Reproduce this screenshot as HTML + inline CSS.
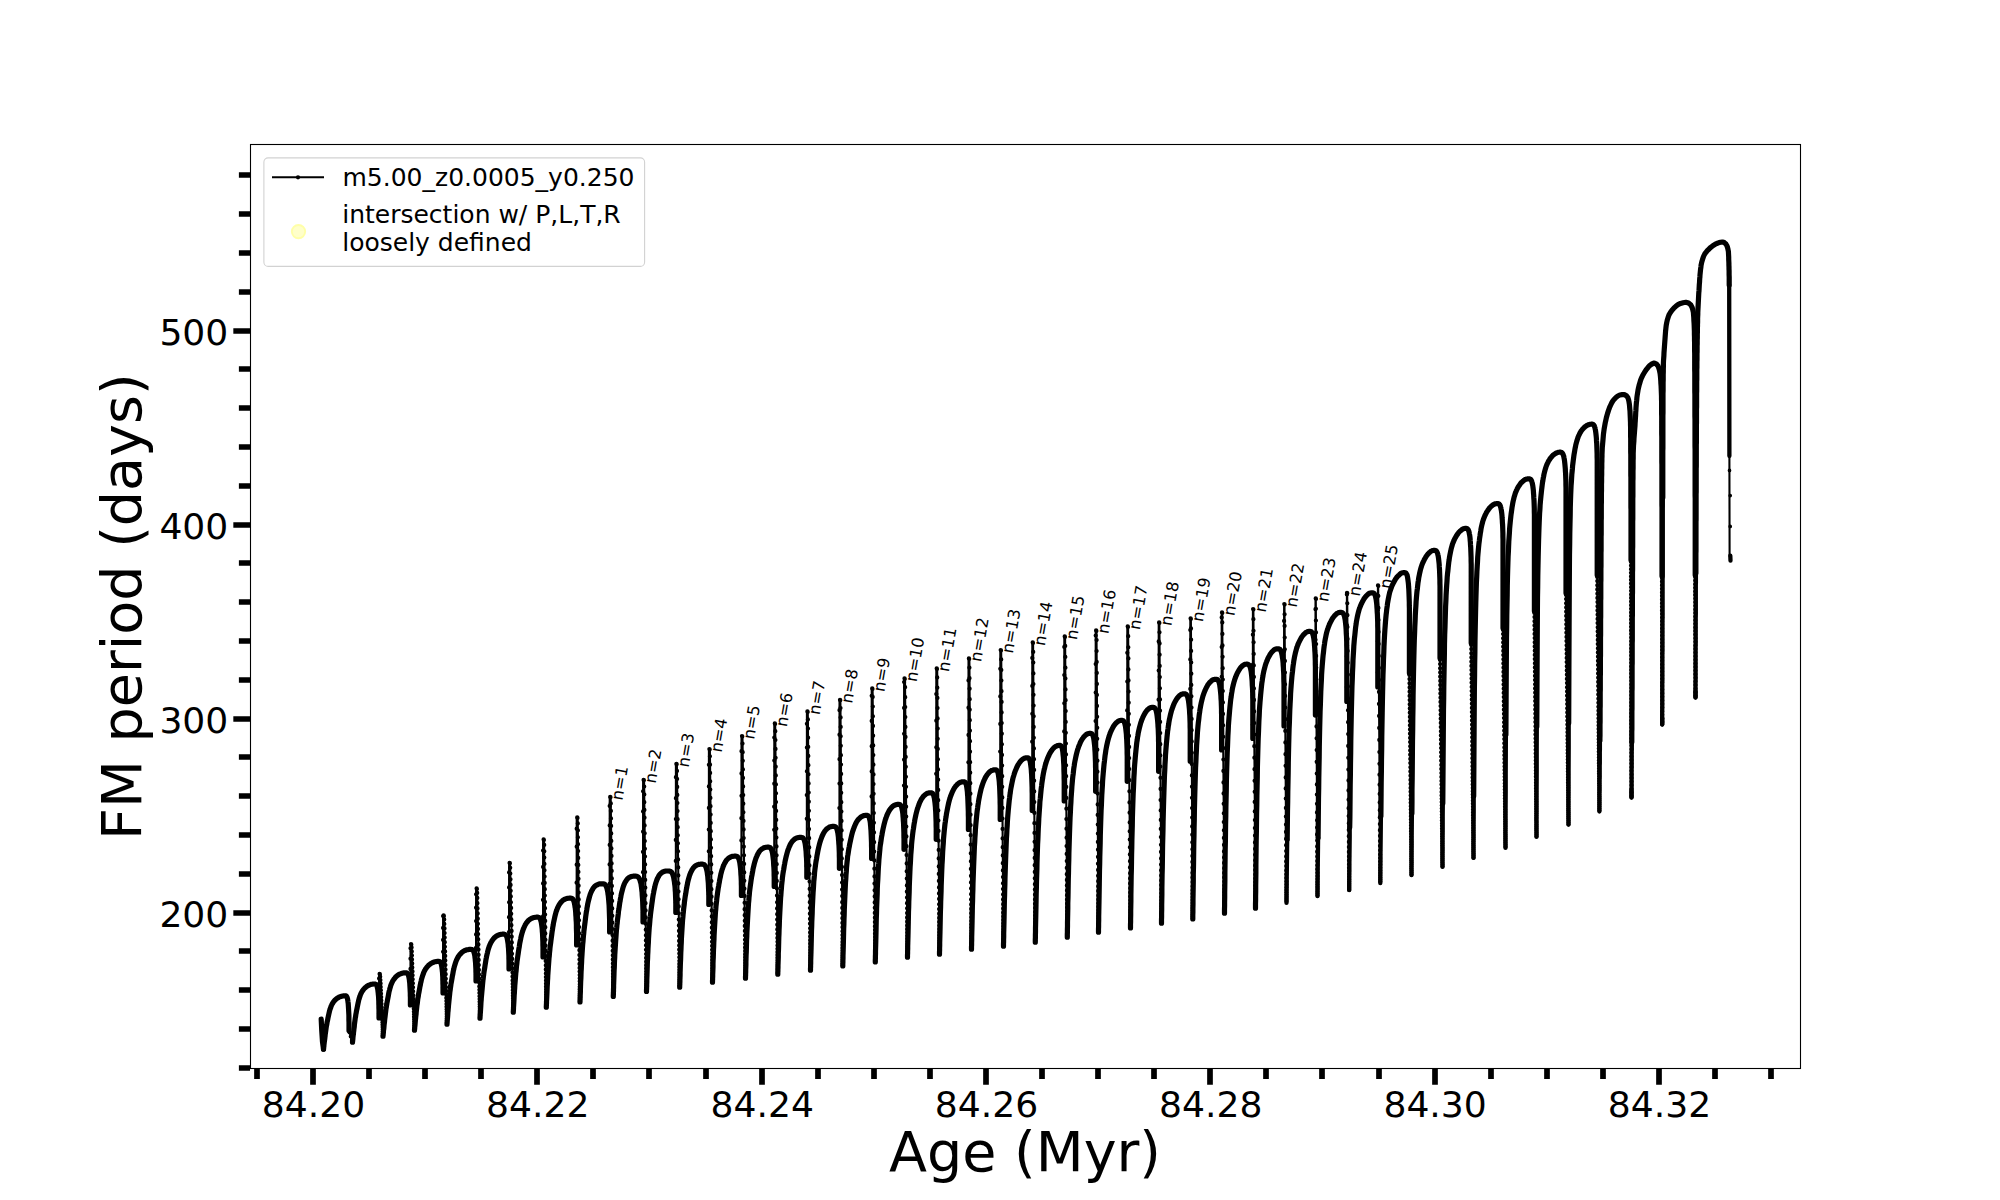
<!DOCTYPE html>
<html lang="en"><head><meta charset="utf-8"><title>FM period vs Age</title>
<style>html,body{margin:0;padding:0;background:#fff}svg{display:block}</style></head>
<body>
<svg width="2000" height="1200" viewBox="0 0 2000 1200" font-family="'DejaVu Sans', 'Liberation Sans', sans-serif" fill="#000">
<rect width="2000" height="1200" fill="#fff"/>
<g fill="none" stroke="#000" stroke-linejoin="round" stroke-linecap="round">
<g stroke-width="2.08">
<polyline points="349.0,1030.4 352.5,1042.2"/>
<polyline points="379.0,1017.9 379.1,974.6 379.6,973.6 380.1,974.6 383.0,1036.2"/>
<polyline points="410.4,1004.9 410.5,944.9 411.0,943.9 411.5,944.9 414.5,1030.2"/>
<polyline points="443.0,992.9 443.1,916.2 443.6,915.2 444.1,916.2 447.0,1024.2"/>
<polyline points="476.0,980.9 476.1,889.2 476.6,888.2 477.1,889.2 480.0,1018.2"/>
<polyline points="509.0,968.9 509.1,863.6 509.6,862.6 510.1,863.6 513.3,1012.2"/>
<polyline points="543.0,956.9 543.1,840.2 543.6,839.2 544.1,840.2 546.3,1007.2"/>
<polyline points="576.6,944.9 576.7,818.2 577.2,817.2 577.7,818.2 580.0,1001.9"/>
<polyline points="609.6,931.9 609.7,797.6 610.2,796.6 610.7,797.6 613.3,996.4"/>
<polyline points="643.0,921.9 643.1,780.6 643.6,779.6 644.1,780.6 646.5,991.4"/>
<polyline points="675.8,912.4 675.9,764.6 676.4,763.6 676.9,764.6 679.7,987.2"/>
<polyline points="708.8,904.5 708.9,749.9 709.4,748.9 709.9,749.9 712.5,982.2"/>
<polyline points="741.4,895.5 741.5,736.9 742.0,735.9 742.5,736.9 745.5,978.2"/>
<polyline points="774.2,886.5 774.3,724.2 774.8,723.2 775.2,724.2 777.8,974.2"/>
<polyline points="806.8,877.3 806.9,712.2 807.4,711.2 807.8,712.2 810.5,970.2"/>
<polyline points="839.4,868.3 839.5,700.6 840.0,699.6 840.4,700.6 842.8,965.9"/>
<polyline points="871.6,858.5 871.7,689.2 872.2,688.2 872.6,689.2 875.3,961.9"/>
<polyline points="904.0,849.3 904.1,679.2 904.5,678.2 905.0,679.2 907.5,957.2"/>
<polyline points="936.2,839.3 936.3,669.2 936.7,668.2 937.2,669.2 939.5,954.2"/>
<polyline points="968.4,829.5 968.5,659.2 968.9,658.2 969.4,659.2 971.5,949.2"/>
<polyline points="1000.2,819.5 1000.3,650.9 1000.7,649.9 1001.2,650.9 1003.5,946.2"/>
<polyline points="1032.2,810.4 1032.3,643.2 1032.7,642.2 1033.1,643.2 1035.3,942.2"/>
<polyline points="1064.2,800.9 1064.3,637.2 1064.7,636.2 1065.1,637.2 1067.3,937.2"/>
<polyline points="1095.6,791.3 1095.7,631.2 1096.1,630.2 1096.5,631.2 1098.5,932.2"/>
<polyline points="1127.2,781.3 1127.3,627.2 1127.7,626.2 1128.1,627.2 1130.5,927.9"/>
<polyline points="1158.6,771.3 1158.7,623.2 1159.1,622.2 1159.4,623.2 1161.5,923.2"/>
<polyline points="1190.2,761.3 1190.3,619.2 1190.6,618.2 1190.9,619.2 1192.8,918.9"/>
<polyline points="1221.6,749.9 1221.7,613.2 1222.0,612.2 1222.2,613.2 1224.5,913.2"/>
<polyline points="1252.8,738.5 1252.9,609.9 1253.1,608.9 1253.4,609.9 1255.5,908.2"/>
<polyline points="1284.0,725.9 1284.1,604.9 1284.3,603.9 1284.5,604.9 1286.5,902.9"/>
<polyline points="1315.4,715.1 1315.5,599.2 1315.7,598.2 1315.8,599.2 1317.5,896.2"/>
<polyline points="1346.8,701.4 1346.9,593.6 1347.0,592.6 1347.2,593.6 1349.2,890.2"/>
<polyline points="1377.8,686.9 1377.9,586.2 1378.0,585.2 1378.2,586.2 1380.3,883.2"/>
<polyline points="1409.4,672.9 1411.5,875.2"/>
<polyline points="1440.0,657.9 1442.5,866.9"/>
<polyline points="1471.2,642.9 1473.5,857.9"/>
<polyline points="1503.0,627.9 1505.5,847.9"/>
<polyline points="1534.4,610.9 1536.5,836.9"/>
<polyline points="1566.0,592.9 1568.5,824.6"/>
<polyline points="1597.2,574.9 1599.4,811.6"/>
<polyline points="1631.0,560.0 1631.5,797.6"/>
<polyline points="1662.0,576.0 1662.2,724.6"/>
<polyline points="1695.2,575.0 1695.5,697.6"/>
<polyline points="1729.4,456.0 1729.6,556.0"/>
</g>
<g stroke-width="5.20">
<polyline points="321.2,1019.2 321.7,1030.0 322.5,1042.0 323.5,1049.2"/>
<polyline points="323.5,1049.2 323.5,1049.2 323.5,1049.0 323.5,1048.9 323.6,1048.6 323.6,1048.2 323.7,1047.8 323.7,1047.3 323.8,1046.7 323.9,1046.1 323.9,1045.4 324.0,1044.6 324.1,1043.8 324.2,1042.9 324.3,1041.9 324.5,1040.8 324.6,1039.7 324.8,1038.5 324.9,1037.3 325.1,1035.9 325.2,1034.6 325.4,1033.2 325.6,1031.8 325.8,1030.4 326.0,1029.0 326.2,1027.5 326.4,1026.2 326.7,1024.8 326.9,1023.5 327.1,1022.2 327.4,1020.9 327.7,1019.7 327.9,1018.4 328.2,1017.0 328.5,1015.6 328.8,1014.2 329.1,1012.9 329.4,1011.6 329.7,1010.3 330.1,1009.2 330.4,1008.2 330.8,1007.2 331.1,1006.2 331.5,1005.4 331.9,1004.5 332.3,1003.8 332.7,1003.2 333.1,1002.5 333.5,1001.9 333.9,1001.4 334.3,1000.9 334.8,1000.4 335.2,999.9 335.7,999.5 336.1,999.1 336.6,998.7 337.1,998.3 337.6,998.0 338.1,997.7 338.6,997.4 339.1,997.1 339.6,996.9 340.1,996.7 340.7,996.5 341.2,996.3 341.8,996.2 342.3,996.1 342.9,996.0 343.5,995.9 344.1,995.8 344.7,995.8 344.9,995.8 345.1,995.8 345.4,995.8 345.6,995.8 345.8,995.9 346.0,995.9 346.2,996.1 346.4,996.2 346.7,996.5 346.8,996.8 347.0,997.2 347.2,997.7 347.4,998.3 347.6,999.1 347.7,1000.0 347.9,1001.0 348.0,1002.1 348.2,1003.4 348.3,1004.8 348.4,1006.3 348.5,1008.0 348.6,1009.8 348.7,1011.7 348.8,1013.7 348.9,1015.7 348.9,1017.9 348.9,1020.1 349.0,1022.3 349.0,1024.6 349.0,1026.9 349.0,1030.4"/>
<polyline points="352.5,1042.2 352.5,1042.2 352.5,1042.0 352.5,1041.8 352.6,1041.5 352.6,1041.1 352.7,1040.7 352.7,1040.1 352.8,1039.5 352.9,1038.8 352.9,1038.0 353.0,1037.2 353.1,1036.3 353.2,1035.3 353.4,1034.2 353.5,1033.1 353.6,1031.9 353.8,1030.6 353.9,1029.2 354.1,1027.8 354.3,1026.3 354.4,1024.7 354.6,1023.2 354.8,1021.7 355.0,1020.1 355.2,1018.6 355.5,1017.1 355.7,1015.6 355.9,1014.2 356.2,1012.8 356.4,1011.4 356.7,1010.0 357.0,1008.6 357.3,1007.1 357.6,1005.6 357.9,1004.1 358.2,1002.6 358.5,1001.2 358.8,999.8 359.2,998.6 359.5,997.5 359.9,996.4 360.2,995.4 360.6,994.4 361.0,993.5 361.4,992.7 361.8,992.0 362.2,991.3 362.6,990.7 363.0,990.1 363.5,989.5 363.9,989.0 364.4,988.5 364.8,988.0 365.3,987.6 365.8,987.2 366.3,986.8 366.8,986.4 367.3,986.0 367.8,985.7 368.3,985.5 368.8,985.2 369.4,985.0 369.9,984.8 370.5,984.6 371.0,984.4 371.6,984.3 372.2,984.2 372.8,984.1 373.4,984.0 374.0,984.0 374.3,984.0 374.5,984.0 374.8,984.0 375.0,984.0 375.3,984.1 375.5,984.1 375.8,984.3 376.0,984.4 376.3,984.7 376.5,985.0 376.7,985.4 376.9,985.9 377.1,986.5 377.3,987.2 377.5,988.1 377.7,989.1 377.9,990.2 378.0,991.4 378.2,992.8 378.3,994.3 378.5,996.0 378.6,997.7 378.7,999.6 378.8,1001.5 378.8,1003.5 378.9,1005.6 378.9,1007.8 379.0,1010.0 379.0,1012.3 379.0,1014.5 379.0,1017.9"/>
<polyline points="383.0,1036.2 383.0,1036.2 383.0,1036.0 383.0,1035.8 383.1,1035.5 383.1,1035.1 383.2,1034.5 383.2,1034.0 383.3,1033.3 383.4,1032.5 383.4,1031.7 383.5,1030.7 383.6,1029.7 383.8,1028.7 383.9,1027.5 384.0,1026.3 384.1,1025.0 384.3,1023.5 384.5,1022.0 384.6,1020.5 384.8,1018.8 385.0,1017.2 385.2,1015.5 385.4,1013.8 385.6,1012.2 385.8,1010.5 386.0,1008.8 386.3,1007.2 386.5,1005.7 386.8,1004.1 387.0,1002.7 387.3,1001.2 387.6,999.6 387.9,998.0 388.2,996.4 388.5,994.7 388.8,993.1 389.1,991.5 389.5,990.1 389.8,988.8 390.2,987.5 390.5,986.3 390.9,985.2 391.3,984.1 391.7,983.2 392.1,982.3 392.5,981.5 392.9,980.8 393.3,980.1 393.8,979.4 394.2,978.8 394.7,978.3 395.1,977.7 395.6,977.2 396.1,976.7 396.6,976.2 397.1,975.8 397.6,975.4 398.1,975.0 398.6,974.7 399.2,974.4 399.7,974.1 400.3,973.9 400.8,973.7 401.4,973.5 402.0,973.3 402.6,973.1 403.2,973.0 403.8,972.9 404.4,972.8 405.0,972.8 405.3,972.8 405.6,972.8 405.8,972.8 406.1,972.8 406.4,972.9 406.7,972.9 406.9,973.0 407.2,973.2 407.5,973.4 407.7,973.7 407.9,974.1 408.2,974.6 408.4,975.2 408.6,975.9 408.8,976.7 409.0,977.6 409.2,978.7 409.4,979.8 409.5,981.2 409.7,982.6 409.8,984.1 409.9,985.8 410.0,987.5 410.1,989.4 410.2,991.3 410.3,993.3 410.3,995.3 410.4,997.4 410.4,999.6 410.4,1001.7 410.4,1004.9"/>
<polyline points="414.5,1030.2 414.5,1030.1 414.5,1030.0 414.5,1029.7 414.6,1029.3 414.6,1028.8 414.7,1028.3 414.7,1027.6 414.8,1026.8 414.9,1025.9 415.0,1024.9 415.1,1023.8 415.2,1022.6 415.3,1021.4 415.4,1020.0 415.6,1018.6 415.7,1017.1 415.9,1015.5 416.1,1013.9 416.2,1012.1 416.4,1010.4 416.6,1008.6 416.8,1006.8 417.0,1005.0 417.3,1003.2 417.5,1001.4 417.7,999.6 418.0,997.9 418.3,996.2 418.5,994.6 418.8,993.0 419.1,991.4 419.4,989.8 419.7,988.1 420.0,986.4 420.4,984.6 420.7,982.9 421.1,981.3 421.4,979.8 421.8,978.4 422.2,977.1 422.6,975.8 423.0,974.6 423.4,973.5 423.8,972.4 424.2,971.5 424.6,970.6 425.1,969.8 425.5,969.1 426.0,968.4 426.5,967.7 427.0,967.1 427.5,966.5 428.0,966.0 428.5,965.4 429.0,965.0 429.5,964.5 430.1,964.1 430.6,963.7 431.2,963.3 431.8,963.0 432.3,962.7 432.9,962.5 433.5,962.3 434.1,962.0 434.8,961.8 435.4,961.7 436.0,961.6 436.7,961.5 437.3,961.4 438.0,961.4 438.3,961.4 438.5,961.4 438.8,961.4 439.0,961.4 439.3,961.5 439.5,961.5 439.8,961.6 440.0,961.8 440.3,962.0 440.5,962.3 440.7,962.7 440.9,963.1 441.1,963.7 441.3,964.4 441.5,965.2 441.7,966.1 441.9,967.2 442.0,968.3 442.2,969.6 442.3,971.0 442.5,972.5 442.6,974.1 442.7,975.9 442.8,977.7 442.8,979.5 442.9,981.5 442.9,983.5 443.0,985.6 443.0,987.7 443.0,989.8 443.0,992.9"/>
<polyline points="447.0,1024.2 447.0,1024.1 447.0,1023.9 447.0,1023.6 447.1,1023.2 447.1,1022.6 447.2,1021.9 447.2,1021.1 447.3,1020.2 447.4,1019.1 447.5,1018.0 447.6,1016.7 447.7,1015.3 447.8,1013.9 447.9,1012.3 448.1,1010.7 448.2,1009.0 448.4,1007.2 448.5,1005.4 448.7,1003.5 448.9,1001.6 449.1,999.6 449.3,997.6 449.5,995.7 449.7,993.8 449.9,991.8 450.2,989.9 450.4,988.1 450.7,986.3 450.9,984.6 451.2,982.9 451.5,981.2 451.8,979.5 452.1,977.7 452.4,975.9 452.8,974.1 453.1,972.3 453.4,970.6 453.8,969.0 454.1,967.5 454.5,966.1 454.9,964.7 455.3,963.4 455.7,962.2 456.1,961.1 456.5,960.1 456.9,959.2 457.4,958.3 457.8,957.5 458.3,956.7 458.7,956.0 459.2,955.3 459.7,954.7 460.2,954.1 460.7,953.6 461.2,953.1 461.7,952.6 462.3,952.1 462.8,951.7 463.3,951.3 463.9,951.0 464.5,950.7 465.0,950.5 465.6,950.3 466.2,950.0 466.8,949.8 467.4,949.7 468.1,949.6 468.7,949.5 469.3,949.4 470.0,949.4 470.3,949.4 470.6,949.4 470.9,949.4 471.2,949.4 471.6,949.5 471.9,949.5 472.2,949.6 472.4,949.8 472.7,950.0 473.0,950.3 473.3,950.7 473.5,951.1 473.8,951.7 474.0,952.4 474.2,953.2 474.5,954.1 474.7,955.2 474.9,956.3 475.0,957.6 475.2,959.0 475.3,960.5 475.5,962.1 475.6,963.9 475.7,965.7 475.8,967.5 475.9,969.5 475.9,971.5 476.0,973.6 476.0,975.7 476.0,977.8 476.0,980.9"/>
<polyline points="480.0,1018.2 480.0,1018.1 480.0,1017.9 480.0,1017.5 480.1,1017.0 480.1,1016.3 480.2,1015.5 480.2,1014.5 480.3,1013.4 480.4,1012.1 480.5,1010.7 480.6,1009.2 480.7,1007.6 480.8,1005.8 480.9,1003.9 481.0,1002.0 481.2,1000.0 481.3,998.0 481.5,995.9 481.7,993.7 481.9,991.6 482.1,989.4 482.3,987.2 482.5,985.0 482.7,982.8 482.9,980.7 483.2,978.6 483.4,976.5 483.7,974.6 483.9,972.7 484.2,970.9 484.5,969.0 484.8,967.2 485.1,965.2 485.4,963.3 485.7,961.3 486.0,959.4 486.4,957.5 486.7,955.8 487.1,954.1 487.5,952.6 487.8,951.1 488.2,949.6 488.6,948.3 489.0,947.1 489.4,945.9 489.9,944.9 490.3,943.9 490.7,943.0 491.2,942.1 491.7,941.3 492.1,940.6 492.6,939.9 493.1,939.2 493.6,938.6 494.1,938.1 494.6,937.5 495.2,937.1 495.7,936.6 496.2,936.2 496.8,935.9 497.4,935.6 497.9,935.3 498.5,935.1 499.1,934.8 499.7,934.6 500.3,934.5 500.9,934.4 501.6,934.3 502.2,934.2 502.9,934.2 503.2,934.2 503.5,934.2 503.8,934.2 504.1,934.2 504.4,934.3 504.8,934.3 505.1,934.5 505.4,934.6 505.6,934.9 505.9,935.2 506.2,935.6 506.5,936.1 506.7,936.8 507.0,937.5 507.2,938.4 507.4,939.4 507.6,940.5 507.8,941.8 508.0,943.2 508.2,944.8 508.3,946.4 508.5,948.2 508.6,950.1 508.7,952.1 508.8,954.2 508.9,956.3 508.9,958.6 509.0,960.8 509.0,963.1 509.0,965.4 509.0,968.9"/>
<polyline points="513.3,1012.2 513.3,1012.1 513.3,1011.8 513.3,1011.4 513.4,1010.7 513.4,1009.9 513.5,1008.9 513.5,1007.7 513.6,1006.4 513.7,1004.9 513.8,1003.2 513.9,1001.4 514.0,999.4 514.1,997.2 514.2,995.0 514.4,992.7 514.5,990.4 514.7,988.0 514.8,985.6 515.0,983.2 515.2,980.7 515.4,978.2 515.6,975.8 515.8,973.3 516.1,970.9 516.3,968.5 516.5,966.1 516.8,963.9 517.0,961.7 517.3,959.6 517.6,957.6 517.9,955.5 518.2,953.5 518.5,951.4 518.8,949.3 519.2,947.1 519.5,945.0 519.8,943.0 520.2,941.1 520.6,939.3 520.9,937.6 521.3,935.9 521.7,934.3 522.1,932.8 522.6,931.4 523.0,930.1 523.4,928.9 523.9,927.8 524.3,926.8 524.8,925.8 525.2,924.9 525.7,924.1 526.2,923.3 526.7,922.6 527.2,922.0 527.8,921.3 528.3,920.7 528.8,920.2 529.4,919.7 529.9,919.3 530.5,919.0 531.1,918.6 531.7,918.3 532.3,918.1 532.9,917.8 533.5,917.6 534.1,917.5 534.8,917.4 535.4,917.3 536.1,917.2 536.7,917.2 537.0,917.2 537.4,917.2 537.7,917.2 538.0,917.2 538.3,917.3 538.7,917.4 539.0,917.5 539.3,917.7 539.6,918.0 539.9,918.3 540.1,918.8 540.4,919.4 540.7,920.1 540.9,921.0 541.2,922.0 541.4,923.1 541.6,924.5 541.8,925.9 542.0,927.5 542.2,929.3 542.3,931.2 542.5,933.2 542.6,935.4 542.7,937.7 542.8,940.1 542.9,942.5 542.9,945.1 543.0,947.7 543.0,950.3 543.0,952.9 543.0,956.9"/>
<polyline points="546.3,1007.2 546.3,1007.1 546.3,1006.7 546.3,1006.2 546.4,1005.4 546.4,1004.4 546.5,1003.2 546.5,1001.7 546.6,1000.1 546.7,998.3 546.8,996.2 546.9,994.0 547.0,991.6 547.1,989.0 547.2,986.2 547.4,983.4 547.5,980.7 547.7,978.0 547.8,975.2 548.0,972.3 548.2,969.5 548.4,966.6 548.6,963.8 548.8,961.0 549.0,958.3 549.3,955.6 549.5,952.9 549.8,950.3 550.0,947.9 550.3,945.5 550.6,943.3 550.9,941.0 551.2,938.7 551.5,936.4 551.8,934.1 552.1,931.7 552.5,929.4 552.8,927.2 553.2,925.1 553.5,923.0 553.9,921.1 554.3,919.2 554.7,917.4 555.1,915.7 555.5,914.1 555.9,912.6 556.3,911.3 556.8,910.0 557.2,908.8 557.7,907.7 558.2,906.7 558.7,905.7 559.1,904.9 559.6,904.1 560.1,903.3 560.7,902.7 561.2,902.0 561.7,901.4 562.3,900.9 562.8,900.4 563.4,900.0 564.0,899.7 564.6,899.4 565.1,899.1 565.8,898.8 566.4,898.6 567.0,898.4 567.6,898.4 568.3,898.3 568.9,898.2 569.6,898.2 569.9,898.2 570.3,898.2 570.7,898.2 571.0,898.2 571.4,898.3 571.7,898.4 572.1,898.5 572.4,898.8 572.8,899.1 573.1,899.5 573.4,900.1 573.7,900.8 574.0,901.6 574.3,902.6 574.5,903.8 574.8,905.2 575.0,906.7 575.3,908.4 575.5,910.3 575.7,912.4 575.8,914.7 576.0,917.1 576.1,919.6 576.3,922.3 576.4,925.1 576.4,928.0 576.5,931.0 576.6,934.0 576.6,937.1 576.6,940.2 576.6,944.9"/>
<polyline points="580.0,1001.9 580.0,1001.8 580.0,1001.4 580.0,1000.7 580.1,999.8 580.1,998.7 580.2,997.3 580.2,995.6 580.3,993.7 580.4,991.6 580.4,989.3 580.5,986.8 580.6,984.0 580.7,981.0 580.9,977.9 581.0,974.7 581.1,971.7 581.3,968.6 581.4,965.5 581.6,962.4 581.7,959.3 581.9,956.3 582.1,953.2 582.3,950.2 582.5,947.2 582.7,944.3 583.0,941.5 583.2,938.8 583.4,936.2 583.7,933.7 583.9,931.3 584.2,928.9 584.5,926.5 584.8,924.1 585.1,921.7 585.4,919.2 585.7,916.8 586.0,914.5 586.3,912.3 586.7,910.2 587.0,908.1 587.4,906.1 587.7,904.1 588.1,902.3 588.5,900.6 588.9,899.0 589.3,897.5 589.7,896.1 590.1,894.8 590.5,893.6 590.9,892.6 591.4,891.6 591.8,890.6 592.3,889.8 592.8,889.0 593.2,888.3 593.7,887.6 594.2,887.0 594.7,886.4 595.2,886.0 595.7,885.6 596.3,885.2 596.8,884.9 597.4,884.7 597.9,884.4 598.5,884.2 599.0,884.0 599.6,883.9 600.2,883.9 600.8,883.8 601.4,883.8 601.9,883.8 602.3,883.8 602.7,883.8 603.1,883.8 603.5,883.9 604.0,884.0 604.4,884.1 604.8,884.4 605.1,884.7 605.5,885.1 605.9,885.7 606.2,886.4 606.6,887.2 606.9,888.2 607.2,889.4 607.5,890.8 607.8,892.3 608.0,894.0 608.3,895.9 608.5,898.0 608.7,900.3 608.9,902.7 609.1,905.2 609.2,907.9 609.3,910.7 609.4,913.6 609.5,916.6 609.6,919.6 609.6,922.7 609.6,925.8 609.6,931.9"/>
<polyline points="613.3,996.4 613.3,996.3 613.3,995.8 613.3,995.1 613.4,994.2 613.4,992.9 613.5,991.4 613.5,989.7 613.6,987.6 613.6,985.4 613.7,982.9 613.8,980.2 613.9,977.2 614.0,974.0 614.1,970.6 614.3,967.3 614.4,964.0 614.5,960.9 614.7,957.7 614.8,954.5 615.0,951.3 615.2,948.2 615.4,945.1 615.6,942.1 615.8,939.1 616.0,936.2 616.2,933.3 616.4,930.6 616.7,928.0 616.9,925.5 617.2,923.1 617.4,920.8 617.7,918.4 618.0,916.1 618.3,913.7 618.5,911.3 618.9,909.0 619.2,906.8 619.5,904.6 619.8,902.5 620.2,900.4 620.5,898.4 620.9,896.4 621.2,894.6 621.6,892.9 622.0,891.3 622.4,889.8 622.8,888.3 623.2,887.0 623.6,885.8 624.0,884.7 624.4,883.7 624.9,882.8 625.3,881.9 625.8,881.2 626.3,880.5 626.7,879.8 627.2,879.2 627.7,878.6 628.2,878.2 628.7,877.8 629.2,877.5 629.8,877.2 630.3,876.9 630.8,876.7 631.4,876.5 632.0,876.4 632.5,876.3 633.1,876.2 633.7,876.2 634.3,876.2 634.7,876.2 635.2,876.2 635.6,876.2 636.1,876.2 636.5,876.3 637.0,876.4 637.4,876.5 637.8,876.8 638.2,877.1 638.6,877.5 639.0,878.1 639.4,878.7 639.8,879.6 640.1,880.6 640.4,881.7 640.8,883.0 641.1,884.5 641.3,886.2 641.6,888.1 641.8,890.1 642.1,892.3 642.2,894.7 642.4,897.2 642.6,899.8 642.7,902.5 642.8,905.4 642.9,908.3 643.0,911.3 643.0,914.3 643.0,917.3 643.0,921.9"/>
<polyline points="646.5,991.4 646.5,991.3 646.5,990.8 646.5,990.1 646.6,989.1 646.6,987.8 646.7,986.3 646.7,984.5 646.8,982.4 646.8,980.1 646.9,977.5 647.0,974.8 647.1,971.7 647.2,968.4 647.3,965.0 647.4,961.6 647.6,958.3 647.7,955.0 647.9,951.7 648.0,948.5 648.2,945.2 648.4,942.0 648.5,938.8 648.7,935.7 648.9,932.7 649.1,929.7 649.3,926.9 649.6,924.1 649.8,921.5 650.0,919.0 650.3,916.6 650.5,914.3 650.8,912.0 651.1,909.7 651.4,907.4 651.7,905.2 652.0,902.9 652.3,900.8 652.6,898.7 652.9,896.7 653.2,894.7 653.6,892.7 653.9,890.9 654.3,889.1 654.7,887.4 655.0,885.9 655.4,884.4 655.8,883.0 656.2,881.8 656.6,880.6 657.0,879.5 657.5,878.5 657.9,877.6 658.3,876.8 658.8,876.0 659.2,875.3 659.7,874.6 660.2,874.0 660.7,873.5 661.2,873.1 661.7,872.7 662.2,872.3 662.7,872.0 663.2,871.8 663.8,871.5 664.3,871.3 664.9,871.2 665.4,871.1 666.0,871.0 666.6,871.0 667.1,871.0 667.6,871.0 668.0,871.0 668.5,871.0 668.9,871.0 669.4,871.1 669.8,871.2 670.2,871.3 670.7,871.5 671.1,871.8 671.5,872.2 671.9,872.7 672.2,873.3 672.6,874.0 672.9,874.9 673.3,876.0 673.6,877.2 673.9,878.6 674.1,880.1 674.4,881.8 674.6,883.6 674.9,885.6 675.1,887.7 675.2,890.0 675.4,892.4 675.5,894.9 675.6,897.4 675.7,900.1 675.8,902.8 675.8,905.5 675.8,908.3 675.8,912.4"/>
<polyline points="679.7,987.2 679.7,987.0 679.7,986.6 679.7,985.8 679.8,984.8 679.8,983.5 679.9,981.8 679.9,979.9 680.0,977.8 680.1,975.3 680.1,972.7 680.2,969.8 680.3,966.6 680.4,963.2 680.6,959.6 680.7,956.1 680.8,952.6 681.0,949.2 681.1,945.8 681.3,942.3 681.4,938.9 681.6,935.6 681.8,932.3 682.0,929.1 682.2,925.9 682.4,922.8 682.6,919.9 682.9,917.0 683.1,914.4 683.4,911.8 683.6,909.3 683.9,907.0 684.2,904.7 684.4,902.5 684.7,900.2 685.0,898.0 685.3,895.9 685.7,893.8 686.0,891.8 686.3,889.8 686.7,887.8 687.0,885.9 687.4,884.1 687.7,882.3 688.1,880.7 688.5,879.2 688.9,877.8 689.3,876.4 689.7,875.1 690.1,874.0 690.6,872.9 691.0,871.9 691.5,871.0 691.9,870.1 692.4,869.4 692.8,868.6 693.3,868.0 693.8,867.4 694.3,866.8 694.8,866.4 695.3,866.0 695.9,865.6 696.4,865.3 697.0,865.0 697.5,864.8 698.1,864.6 698.6,864.4 699.2,864.3 699.8,864.3 700.4,864.2 701.0,864.2 701.4,864.2 701.8,864.2 702.2,864.2 702.6,864.2 703.0,864.3 703.4,864.4 703.8,864.5 704.2,864.7 704.5,865.0 704.9,865.4 705.2,865.8 705.6,866.4 705.9,867.2 706.2,868.0 706.5,869.1 706.8,870.2 707.1,871.6 707.3,873.0 707.5,874.7 707.8,876.5 707.9,878.4 708.1,880.5 708.3,882.7 708.4,885.0 708.5,887.4 708.6,889.9 708.7,892.5 708.8,895.1 708.8,897.8 708.8,900.5 708.8,904.5"/>
<polyline points="712.5,982.2 712.5,982.0 712.5,981.6 712.5,980.8 712.6,979.7 712.6,978.3 712.7,976.5 712.7,974.5 712.8,972.3 712.9,969.7 713.0,967.0 713.0,963.9 713.1,960.6 713.3,957.0 713.4,953.3 713.5,949.6 713.7,946.0 713.8,942.5 714.0,938.9 714.1,935.2 714.3,931.7 714.5,928.1 714.7,924.7 714.9,921.3 715.1,918.1 715.3,914.9 715.5,911.8 715.8,908.9 716.0,906.1 716.3,903.5 716.6,901.0 716.8,898.6 717.1,896.3 717.4,894.1 717.7,891.9 718.0,889.8 718.3,887.7 718.7,885.7 719.0,883.7 719.4,881.7 719.7,879.8 720.1,878.0 720.5,876.1 720.8,874.4 721.2,872.8 721.6,871.3 722.0,869.9 722.5,868.6 722.9,867.3 723.3,866.2 723.8,865.1 724.2,864.1 724.7,863.2 725.2,862.3 725.7,861.5 726.1,860.8 726.6,860.1 727.2,859.5 727.7,859.0 728.2,858.5 728.7,858.1 729.3,857.7 729.8,857.4 730.4,857.1 731.0,856.8 731.6,856.6 732.1,856.4 732.7,856.3 733.4,856.3 734.0,856.2 734.6,856.2 735.0,856.2 735.3,856.2 735.7,856.2 736.0,856.2 736.4,856.3 736.7,856.4 737.0,856.5 737.4,856.7 737.7,857.0 738.0,857.3 738.3,857.8 738.6,858.4 738.9,859.1 739.2,859.9 739.4,860.9 739.7,862.1 739.9,863.4 740.1,864.8 740.3,866.4 740.5,868.2 740.7,870.1 740.8,872.1 740.9,874.2 741.1,876.5 741.2,878.8 741.3,881.3 741.3,883.8 741.4,886.4 741.4,889.0 741.4,891.6 741.4,895.5"/>
<polyline points="745.5,978.2 745.5,978.0 745.5,977.5 745.5,976.7 745.6,975.5 745.6,974.0 745.7,972.2 745.7,970.0 745.8,967.6 745.9,964.9 745.9,962.0 746.0,958.8 746.1,955.2 746.3,951.5 746.4,947.6 746.5,943.6 746.6,939.8 746.8,936.0 746.9,932.2 747.1,928.3 747.3,924.5 747.5,920.8 747.7,917.1 747.9,913.6 748.1,910.1 748.3,906.8 748.5,903.5 748.8,900.5 749.0,897.6 749.3,894.8 749.5,892.2 749.8,889.7 750.1,887.4 750.4,885.2 750.7,883.1 751.0,881.0 751.3,878.9 751.6,876.9 752.0,875.0 752.3,873.1 752.7,871.2 753.0,869.3 753.4,867.5 753.8,865.8 754.2,864.2 754.6,862.7 755.0,861.3 755.4,860.0 755.8,858.7 756.2,857.6 756.7,856.5 757.1,855.5 757.6,854.5 758.1,853.6 758.5,852.8 759.0,852.0 759.5,851.3 760.0,850.7 760.5,850.1 761.1,849.7 761.6,849.2 762.1,848.8 762.7,848.5 763.2,848.2 763.8,847.9 764.4,847.6 765.0,847.5 765.6,847.4 766.2,847.3 766.8,847.2 767.4,847.2 767.8,847.2 768.1,847.2 768.5,847.2 768.8,847.2 769.2,847.3 769.5,847.4 769.8,847.5 770.2,847.7 770.5,848.0 770.8,848.3 771.1,848.8 771.4,849.4 771.7,850.1 772.0,850.9 772.2,851.9 772.5,853.1 772.7,854.4 772.9,855.8 773.1,857.4 773.3,859.2 773.5,861.1 773.6,863.1 773.7,865.2 773.9,867.5 774.0,869.8 774.1,872.3 774.1,874.8 774.2,877.4 774.2,880.0 774.2,882.6 774.2,886.5"/>
<polyline points="777.8,974.2 777.8,974.0 777.8,973.5 777.8,972.6 777.9,971.3 777.9,969.7 778.0,967.7 778.0,965.5 778.1,962.9 778.2,960.0 778.3,956.9 778.3,953.4 778.5,949.7 778.6,945.7 778.7,941.6 778.8,937.4 779.0,933.3 779.1,929.3 779.3,925.2 779.4,921.0 779.6,916.9 779.8,912.9 780.0,909.1 780.2,905.3 780.4,901.6 780.6,898.1 780.9,894.7 781.1,891.5 781.4,888.4 781.6,885.5 781.9,882.8 782.2,880.2 782.4,877.9 782.7,875.7 783.0,873.5 783.3,871.5 783.7,869.5 784.0,867.5 784.3,865.6 784.7,863.7 785.0,861.8 785.4,859.9 785.8,858.1 786.2,856.4 786.6,854.8 787.0,853.3 787.4,851.9 787.8,850.6 788.2,849.4 788.7,848.2 789.1,847.1 789.6,846.0 790.1,845.0 790.5,844.1 791.0,843.2 791.5,842.5 792.0,841.8 792.5,841.1 793.0,840.6 793.6,840.0 794.1,839.6 794.7,839.1 795.2,838.8 795.8,838.4 796.4,838.1 796.9,837.9 797.5,837.7 798.1,837.6 798.7,837.5 799.4,837.4 800.0,837.4 800.4,837.4 800.7,837.4 801.1,837.4 801.4,837.4 801.8,837.5 802.1,837.6 802.4,837.7 802.8,837.9 803.1,838.2 803.4,838.5 803.7,839.0 804.0,839.6 804.3,840.3 804.6,841.2 804.8,842.2 805.1,843.4 805.3,844.7 805.5,846.2 805.7,847.8 805.9,849.6 806.1,851.5 806.2,853.5 806.3,855.7 806.5,858.0 806.6,860.4 806.7,862.9 806.7,865.4 806.8,868.0 806.8,870.7 806.8,873.3 806.8,877.3"/>
<polyline points="810.5,970.2 810.5,970.0 810.5,969.4 810.5,968.4 810.6,967.1 810.6,965.4 810.7,963.3 810.7,960.8 810.8,958.0 810.9,954.9 811.0,951.6 811.1,947.9 811.2,943.9 811.3,939.6 811.4,935.2 811.5,930.7 811.7,926.4 811.8,922.0 812.0,917.6 812.2,913.2 812.3,908.8 812.5,904.4 812.7,900.3 812.9,896.3 813.1,892.4 813.4,888.6 813.6,885.0 813.8,881.6 814.1,878.4 814.4,875.3 814.6,872.4 814.9,869.8 815.2,867.4 815.5,865.2 815.8,863.0 816.1,861.0 816.5,859.0 816.8,857.1 817.1,855.2 817.5,853.3 817.8,851.4 818.2,849.5 818.6,847.7 819.0,846.0 819.4,844.4 819.8,842.9 820.2,841.5 820.6,840.2 821.1,838.9 821.5,837.8 822.0,836.6 822.4,835.5 822.9,834.5 823.4,833.5 823.9,832.6 824.4,831.8 824.9,831.1 825.4,830.4 825.9,829.8 826.5,829.3 827.0,828.7 827.6,828.3 828.2,827.9 828.7,827.5 829.3,827.2 829.9,826.9 830.5,826.7 831.1,826.6 831.7,826.5 832.4,826.4 833.0,826.4 833.3,826.4 833.7,826.4 834.0,826.4 834.3,826.4 834.7,826.5 835.0,826.6 835.3,826.7 835.6,826.9 835.9,827.2 836.2,827.6 836.5,828.1 836.8,828.7 837.0,829.5 837.3,830.4 837.5,831.5 837.8,832.7 838.0,834.1 838.2,835.6 838.4,837.3 838.5,839.2 838.7,841.2 838.8,843.3 839.0,845.6 839.1,848.0 839.2,850.5 839.3,853.1 839.3,855.8 839.4,858.6 839.4,861.3 839.4,864.1 839.4,868.3"/>
<polyline points="842.8,965.9 842.8,965.7 842.8,965.1 842.8,964.0 842.9,962.6 842.9,960.7 843.0,958.5 843.0,955.8 843.1,952.9 843.2,949.6 843.3,946.0 843.4,942.0 843.5,937.8 843.6,933.2 843.7,928.5 843.9,923.8 844.0,919.2 844.2,914.5 844.3,909.8 844.5,905.0 844.7,900.3 844.9,895.7 845.1,891.2 845.3,887.0 845.5,882.8 845.8,878.9 846.0,875.0 846.3,871.5 846.5,868.1 846.8,864.8 847.1,861.8 847.4,859.1 847.6,856.6 848.0,854.4 848.3,852.3 848.6,850.3 848.9,848.4 849.3,846.5 849.6,844.6 850.0,842.7 850.4,840.9 850.8,839.0 851.2,837.2 851.6,835.5 852.0,833.9 852.4,832.4 852.8,831.0 853.3,829.7 853.7,828.5 854.2,827.3 854.6,826.1 855.1,825.0 855.6,823.9 856.1,822.8 856.6,821.9 857.1,821.1 857.6,820.3 858.2,819.7 858.7,819.0 859.3,818.5 859.8,817.9 860.4,817.4 861.0,817.0 861.6,816.6 862.2,816.3 862.8,816.0 863.4,815.8 864.1,815.6 864.7,815.5 865.3,815.4 866.0,815.4 866.3,815.4 866.6,815.4 866.9,815.4 867.2,815.4 867.4,815.5 867.7,815.6 868.0,815.7 868.3,815.9 868.5,816.2 868.8,816.6 869.0,817.1 869.3,817.8 869.5,818.6 869.7,819.5 870.0,820.6 870.2,821.9 870.4,823.3 870.5,824.9 870.7,826.6 870.8,828.5 871.0,830.6 871.1,832.8 871.2,835.2 871.3,837.6 871.4,840.2 871.5,842.9 871.5,845.7 871.6,848.5 871.6,851.3 871.6,854.2 871.6,858.5"/>
<polyline points="875.3,961.9 875.3,961.7 875.3,961.0 875.3,959.9 875.4,958.4 875.4,956.4 875.5,954.1 875.5,951.3 875.6,948.2 875.7,944.8 875.8,941.0 875.9,937.0 876.0,932.6 876.1,927.9 876.2,923.0 876.3,918.1 876.5,913.3 876.6,908.4 876.8,903.5 877.0,898.5 877.2,893.6 877.3,888.7 877.5,884.1 877.8,879.6 878.0,875.3 878.2,871.1 878.4,867.2 878.7,863.4 878.9,859.8 879.2,856.4 879.5,853.2 879.8,850.3 880.0,847.7 880.3,845.3 880.7,843.0 881.0,840.8 881.3,838.7 881.6,836.7 882.0,834.7 882.3,832.7 882.7,830.7 883.1,828.8 883.5,827.0 883.9,825.2 884.3,823.6 884.7,822.1 885.1,820.6 885.5,819.3 886.0,818.0 886.4,816.8 886.9,815.6 887.3,814.4 887.8,813.3 888.3,812.3 888.8,811.3 889.3,810.5 889.8,809.7 890.4,809.0 890.9,808.3 891.4,807.7 892.0,807.1 892.5,806.6 893.1,806.1 893.7,805.7 894.3,805.4 894.9,805.1 895.5,804.8 896.1,804.7 896.7,804.5 897.4,804.4 898.0,804.4 898.3,804.4 898.6,804.4 898.9,804.4 899.2,804.4 899.6,804.5 899.9,804.6 900.2,804.7 900.4,805.0 900.7,805.3 901.0,805.7 901.3,806.2 901.5,806.9 901.8,807.7 902.0,808.7 902.2,809.8 902.5,811.1 902.7,812.6 902.9,814.3 903.0,816.1 903.2,818.1 903.3,820.2 903.5,822.5 903.6,825.0 903.7,827.6 903.8,830.3 903.9,833.1 903.9,835.9 904.0,838.9 904.0,841.8 904.0,844.8 904.0,849.3"/>
<polyline points="907.5,957.2 907.5,957.0 907.5,956.3 907.5,955.1 907.6,953.5 907.6,951.5 907.7,949.0 907.7,946.2 907.8,942.9 907.9,939.3 908.0,935.4 908.1,931.2 908.2,926.7 908.3,921.9 908.4,916.9 908.5,911.8 908.7,906.8 908.8,901.7 909.0,896.6 909.2,891.4 909.3,886.2 909.5,881.2 909.7,876.3 909.9,871.7 910.1,867.1 910.4,862.8 910.6,858.6 910.8,854.7 911.1,851.0 911.4,847.3 911.6,843.9 911.9,840.8 912.2,838.1 912.5,835.5 912.8,833.0 913.1,830.6 913.5,828.4 913.8,826.2 914.1,824.1 914.5,822.0 914.8,820.0 915.2,818.0 915.6,816.1 916.0,814.3 916.4,812.6 916.8,811.1 917.2,809.6 917.6,808.2 918.1,806.9 918.5,805.7 919.0,804.5 919.4,803.3 919.9,802.1 920.4,801.1 920.9,800.1 921.4,799.2 921.9,798.4 922.4,797.7 922.9,797.0 923.5,796.3 924.0,795.7 924.6,795.2 925.2,794.7 925.7,794.3 926.3,793.9 926.9,793.5 927.5,793.3 928.1,793.1 928.7,793.0 929.4,792.8 930.0,792.8 930.3,792.8 930.6,792.8 931.0,792.8 931.3,792.8 931.6,792.9 931.9,793.0 932.2,793.1 932.5,793.4 932.8,793.7 933.1,794.1 933.4,794.7 933.6,795.4 933.9,796.2 934.1,797.2 934.4,798.4 934.6,799.8 934.8,801.3 935.0,803.0 935.2,804.9 935.4,807.0 935.5,809.2 935.7,811.6 935.8,814.1 935.9,816.8 936.0,819.6 936.1,822.5 936.1,825.4 936.2,828.5 936.2,831.6 936.2,834.6 936.2,839.3"/>
<polyline points="939.5,954.2 939.5,954.0 939.5,953.2 939.5,952.0 939.6,950.3 939.6,948.2 939.7,945.6 939.7,942.6 939.8,939.2 939.9,935.4 940.0,931.4 940.1,927.0 940.2,922.3 940.3,917.3 940.4,912.1 940.6,906.9 940.7,901.7 940.9,896.4 941.1,891.0 941.2,885.6 941.4,880.1 941.6,874.8 941.8,869.7 942.0,864.8 942.3,860.1 942.5,855.6 942.7,851.2 943.0,847.1 943.3,843.1 943.5,839.3 943.8,835.7 944.1,832.4 944.4,829.4 944.7,826.6 945.0,823.9 945.4,821.3 945.7,818.9 946.1,816.5 946.4,814.3 946.8,812.1 947.2,810.0 947.6,807.9 948.0,806.0 948.4,804.1 948.8,802.4 949.2,800.8 949.6,799.3 950.1,797.9 950.5,796.5 951.0,795.2 951.5,794.0 952.0,792.8 952.5,791.6 953.0,790.6 953.5,789.6 954.0,788.7 954.5,787.8 955.1,787.0 955.6,786.3 956.2,785.6 956.8,785.0 957.3,784.4 957.9,783.8 958.5,783.4 959.1,783.0 959.8,782.6 960.4,782.3 961.0,782.1 961.7,782.0 962.3,781.8 963.0,781.8 963.3,781.8 963.6,781.8 963.8,781.8 964.1,781.8 964.4,781.9 964.7,782.0 964.9,782.1 965.2,782.4 965.5,782.7 965.7,783.1 965.9,783.7 966.2,784.4 966.4,785.2 966.6,786.2 966.8,787.4 967.0,788.8 967.2,790.3 967.4,792.0 967.5,793.9 967.7,796.0 967.8,798.3 967.9,800.7 968.0,803.2 968.1,805.9 968.2,808.7 968.3,811.6 968.3,814.6 968.4,817.6 968.4,820.7 968.4,823.8 968.4,829.5"/>
<polyline points="971.5,949.2 971.5,948.9 971.5,948.2 971.5,946.9 971.6,945.2 971.6,942.9 971.7,940.2 971.7,937.1 971.8,933.5 971.9,929.6 972.0,925.4 972.1,920.9 972.2,916.1 972.3,911.0 972.4,905.7 972.6,900.3 972.7,894.9 972.9,889.5 973.0,883.8 973.2,878.2 973.4,872.5 973.6,866.9 973.8,861.6 974.0,856.6 974.2,851.7 974.4,846.9 974.7,842.4 974.9,838.1 975.2,833.9 975.4,829.9 975.7,826.1 976.0,822.6 976.3,819.5 976.6,816.5 976.9,813.6 977.2,810.8 977.6,808.1 977.9,805.6 978.3,803.2 978.6,801.0 979.0,798.8 979.4,796.7 979.8,794.7 980.2,792.8 980.6,791.1 981.0,789.4 981.4,787.9 981.9,786.4 982.3,785.1 982.8,783.7 983.2,782.5 983.7,781.3 984.2,780.1 984.7,779.0 985.2,778.0 985.7,777.0 986.2,776.2 986.8,775.3 987.3,774.6 987.8,773.9 988.4,773.2 989.0,772.6 989.5,772.0 990.1,771.5 990.7,771.1 991.3,770.7 991.9,770.4 992.6,770.2 993.2,770.0 993.8,769.9 994.5,769.8 994.8,769.8 995.1,769.8 995.4,769.8 995.7,769.8 996.0,769.9 996.3,770.0 996.5,770.1 996.8,770.4 997.1,770.7 997.4,771.1 997.6,771.7 997.9,772.4 998.1,773.2 998.3,774.2 998.5,775.4 998.7,776.8 998.9,778.3 999.1,780.0 999.3,781.9 999.4,784.0 999.6,786.3 999.7,788.7 999.8,791.2 999.9,793.9 1000.0,796.7 1000.1,799.6 1000.1,802.6 1000.2,805.6 1000.2,808.7 1000.2,811.8 1000.2,819.5"/>
<polyline points="1003.5,946.2 1003.5,945.9 1003.5,945.1 1003.5,943.8 1003.6,941.9 1003.6,939.6 1003.7,936.8 1003.7,933.5 1003.8,929.7 1003.9,925.6 1004.0,921.3 1004.1,916.6 1004.2,911.5 1004.3,906.3 1004.4,900.8 1004.6,895.2 1004.7,889.6 1004.9,883.9 1005.0,878.0 1005.2,872.0 1005.4,866.0 1005.6,860.2 1005.8,854.6 1006.0,849.3 1006.2,844.2 1006.4,839.2 1006.7,834.4 1006.9,829.9 1007.2,825.5 1007.4,821.2 1007.7,817.2 1008.0,813.5 1008.3,810.1 1008.6,806.9 1008.9,803.7 1009.2,800.7 1009.6,797.8 1009.9,795.1 1010.3,792.5 1010.6,790.1 1011.0,787.9 1011.4,785.7 1011.8,783.7 1012.2,781.7 1012.6,779.9 1013.0,778.2 1013.4,776.7 1013.9,775.2 1014.3,773.7 1014.8,772.4 1015.2,771.1 1015.7,769.9 1016.2,768.7 1016.7,767.5 1017.2,766.5 1017.7,765.5 1018.2,764.6 1018.8,763.7 1019.3,762.9 1019.8,762.2 1020.4,761.5 1021.0,760.8 1021.5,760.2 1022.1,759.7 1022.7,759.2 1023.3,758.8 1023.9,758.5 1024.6,758.2 1025.2,758.0 1025.8,757.9 1026.5,757.8 1026.8,757.8 1027.1,757.8 1027.4,757.8 1027.7,757.8 1028.0,757.9 1028.3,758.0 1028.5,758.1 1028.8,758.4 1029.1,758.7 1029.3,759.1 1029.6,759.7 1029.9,760.4 1030.1,761.2 1030.3,762.2 1030.5,763.4 1030.7,764.8 1030.9,766.3 1031.1,768.0 1031.3,769.9 1031.4,772.0 1031.6,774.3 1031.7,776.7 1031.8,779.2 1031.9,781.9 1032.0,784.7 1032.1,787.6 1032.1,790.6 1032.2,793.6 1032.2,796.7 1032.2,799.8 1032.2,810.4"/>
<polyline points="1035.3,942.2 1035.3,941.9 1035.3,941.0 1035.3,939.6 1035.4,937.6 1035.4,935.1 1035.5,932.0 1035.5,928.4 1035.6,924.4 1035.7,920.0 1035.8,915.3 1035.9,910.3 1036.0,904.9 1036.1,899.2 1036.2,893.4 1036.4,887.5 1036.5,881.5 1036.7,875.4 1036.9,869.1 1037.0,862.8 1037.2,856.5 1037.4,850.3 1037.6,844.4 1037.9,838.8 1038.1,833.5 1038.3,828.3 1038.6,823.4 1038.8,818.6 1039.1,814.1 1039.4,809.7 1039.7,805.6 1039.9,801.7 1040.3,798.3 1040.6,795.0 1040.9,791.8 1041.2,788.7 1041.6,785.8 1041.9,783.0 1042.3,780.4 1042.7,778.0 1043.0,775.7 1043.4,773.5 1043.8,771.4 1044.2,769.5 1044.7,767.7 1045.1,766.0 1045.5,764.4 1046.0,762.9 1046.4,761.5 1046.9,760.1 1047.4,758.8 1047.9,757.6 1048.4,756.4 1048.9,755.3 1049.4,754.2 1049.9,753.2 1050.5,752.3 1051.0,751.4 1051.6,750.6 1052.1,749.8 1052.7,749.1 1053.3,748.4 1053.9,747.8 1054.5,747.3 1055.1,746.8 1055.7,746.4 1056.4,746.1 1057.0,745.8 1057.7,745.6 1058.3,745.5 1059.0,745.4 1059.3,745.4 1059.5,745.4 1059.8,745.4 1060.1,745.4 1060.3,745.5 1060.6,745.6 1060.9,745.7 1061.1,746.0 1061.4,746.3 1061.6,746.7 1061.8,747.3 1062.1,748.0 1062.3,748.8 1062.5,749.8 1062.7,751.0 1062.9,752.4 1063.0,753.9 1063.2,755.6 1063.4,757.5 1063.5,759.6 1063.6,761.9 1063.8,764.3 1063.9,766.8 1063.9,769.5 1064.0,772.3 1064.1,775.2 1064.1,778.2 1064.2,781.2 1064.2,784.3 1064.2,787.4 1064.2,800.9"/>
<polyline points="1067.3,937.2 1067.3,936.9 1067.3,936.0 1067.3,934.4 1067.4,932.3 1067.4,929.6 1067.5,926.3 1067.5,922.5 1067.6,918.2 1067.7,913.5 1067.8,908.5 1067.8,903.1 1068.0,897.4 1068.1,891.4 1068.2,885.2 1068.3,879.0 1068.5,872.7 1068.6,866.2 1068.8,859.6 1068.9,853.0 1069.1,846.3 1069.3,839.9 1069.5,833.7 1069.7,828.0 1069.9,822.4 1070.1,817.1 1070.4,812.0 1070.6,807.1 1070.9,802.5 1071.1,798.0 1071.4,793.7 1071.7,789.9 1071.9,786.4 1072.2,783.0 1072.5,779.8 1072.8,776.7 1073.2,773.8 1073.5,771.0 1073.8,768.4 1074.2,765.9 1074.5,763.6 1074.9,761.4 1075.3,759.4 1075.7,757.4 1076.1,755.6 1076.5,753.9 1076.9,752.3 1077.3,750.8 1077.7,749.4 1078.2,748.1 1078.6,746.8 1079.1,745.6 1079.6,744.4 1080.0,743.3 1080.5,742.2 1081.0,741.2 1081.5,740.3 1082.0,739.4 1082.5,738.6 1083.1,737.9 1083.6,737.1 1084.2,736.5 1084.7,735.9 1085.3,735.3 1085.9,734.9 1086.4,734.4 1087.0,734.1 1087.6,733.8 1088.2,733.6 1088.9,733.5 1089.5,733.4 1089.8,733.4 1090.1,733.4 1090.5,733.4 1090.8,733.4 1091.1,733.5 1091.4,733.6 1091.7,733.7 1092.0,734.0 1092.3,734.3 1092.5,734.7 1092.8,735.3 1093.1,736.0 1093.3,736.8 1093.6,737.8 1093.8,739.0 1094.0,740.4 1094.2,741.9 1094.4,743.6 1094.6,745.5 1094.8,747.6 1094.9,749.9 1095.1,752.3 1095.2,754.8 1095.3,757.5 1095.4,760.3 1095.5,763.2 1095.5,766.2 1095.6,769.2 1095.6,772.3 1095.6,775.4 1095.6,791.3"/>
<polyline points="1098.5,932.2 1098.5,931.9 1098.5,930.9 1098.5,929.2 1098.6,926.9 1098.6,924.0 1098.7,920.5 1098.7,916.4 1098.8,911.8 1098.9,906.8 1099.0,901.5 1099.1,895.8 1099.2,889.7 1099.3,883.3 1099.4,876.7 1099.5,870.1 1099.7,863.4 1099.8,856.6 1100.0,849.6 1100.2,842.6 1100.3,835.6 1100.5,828.8 1100.7,822.4 1100.9,816.4 1101.1,810.6 1101.4,805.1 1101.6,799.8 1101.8,794.8 1102.1,790.0 1102.4,785.4 1102.6,781.1 1102.9,777.1 1103.2,773.6 1103.5,770.2 1103.8,766.9 1104.1,763.8 1104.5,760.8 1104.8,758.0 1105.1,755.4 1105.5,753.0 1105.8,750.6 1106.2,748.4 1106.6,746.3 1107.0,744.4 1107.4,742.6 1107.8,740.9 1108.2,739.3 1108.6,737.8 1109.1,736.4 1109.5,735.1 1110.0,733.8 1110.4,732.6 1110.9,731.4 1111.4,730.3 1111.9,729.3 1112.4,728.3 1112.9,727.3 1113.4,726.5 1113.9,725.7 1114.5,724.9 1115.0,724.2 1115.6,723.5 1116.2,722.9 1116.7,722.4 1117.3,721.9 1117.9,721.4 1118.5,721.1 1119.1,720.8 1119.7,720.6 1120.4,720.5 1121.0,720.4 1121.3,720.4 1121.6,720.4 1122.0,720.4 1122.3,720.4 1122.6,720.5 1122.9,720.6 1123.2,720.7 1123.5,721.0 1123.8,721.3 1124.1,721.7 1124.4,722.3 1124.6,723.0 1124.9,723.8 1125.1,724.8 1125.4,726.0 1125.6,727.4 1125.8,728.9 1126.0,730.6 1126.2,732.5 1126.4,734.6 1126.5,736.9 1126.7,739.3 1126.8,741.8 1126.9,744.5 1127.0,747.3 1127.1,750.2 1127.1,753.2 1127.2,756.2 1127.2,759.3 1127.2,762.4 1127.2,781.3"/>
<polyline points="1130.5,927.9 1130.5,927.5 1130.5,926.5 1130.5,924.7 1130.6,922.2 1130.6,919.1 1130.7,915.3 1130.7,911.0 1130.8,906.1 1130.9,900.7 1130.9,895.0 1131.0,888.9 1131.1,882.4 1131.2,875.6 1131.4,868.6 1131.5,861.6 1131.6,854.5 1131.8,847.3 1131.9,839.9 1132.1,832.4 1132.3,825.1 1132.4,817.9 1132.6,811.2 1132.8,804.9 1133.0,798.9 1133.2,793.2 1133.5,787.7 1133.7,782.6 1133.9,777.6 1134.2,772.9 1134.4,768.4 1134.7,764.4 1135.0,760.8 1135.3,757.3 1135.6,754.0 1135.9,750.9 1136.2,747.9 1136.5,745.1 1136.8,742.4 1137.2,740.0 1137.5,737.6 1137.9,735.4 1138.2,733.3 1138.6,731.4 1139.0,729.6 1139.4,727.9 1139.8,726.3 1140.2,724.8 1140.6,723.4 1141.0,722.1 1141.5,720.8 1141.9,719.6 1142.4,718.4 1142.8,717.3 1143.3,716.3 1143.8,715.3 1144.3,714.4 1144.8,713.5 1145.3,712.7 1145.8,711.9 1146.3,711.2 1146.8,710.5 1147.4,709.9 1147.9,709.4 1148.5,708.9 1149.0,708.5 1149.6,708.1 1150.2,707.8 1150.8,707.6 1151.4,707.5 1152.0,707.4 1152.3,707.4 1152.7,707.4 1153.0,707.4 1153.4,707.4 1153.7,707.5 1154.0,707.6 1154.4,707.7 1154.7,708.0 1155.0,708.3 1155.3,708.7 1155.6,709.3 1155.9,710.0 1156.2,710.8 1156.4,711.8 1156.7,713.0 1156.9,714.4 1157.1,715.9 1157.3,717.6 1157.5,719.5 1157.7,721.6 1157.9,723.9 1158.0,726.3 1158.2,728.8 1158.3,731.5 1158.4,734.3 1158.5,737.2 1158.5,740.2 1158.6,743.2 1158.6,746.3 1158.6,749.4 1158.6,771.3"/>
<polyline points="1161.5,923.2 1161.5,922.8 1161.5,921.7 1161.5,919.8 1161.6,917.1 1161.6,913.8 1161.7,909.7 1161.7,905.1 1161.8,899.8 1161.9,894.1 1161.9,888.0 1162.0,881.5 1162.1,874.6 1162.3,867.4 1162.4,860.0 1162.5,852.5 1162.6,845.0 1162.8,837.4 1163.0,829.5 1163.1,821.7 1163.3,813.9 1163.5,806.3 1163.7,799.3 1163.9,792.7 1164.1,786.5 1164.3,780.5 1164.5,774.9 1164.8,769.6 1165.0,764.5 1165.3,759.6 1165.5,755.1 1165.8,751.0 1166.1,747.3 1166.4,743.8 1166.7,740.5 1167.0,737.3 1167.3,734.3 1167.6,731.4 1168.0,728.8 1168.3,726.3 1168.7,724.0 1169.0,721.7 1169.4,719.6 1169.8,717.7 1170.2,715.9 1170.6,714.2 1171.0,712.6 1171.4,711.1 1171.8,709.8 1172.3,708.4 1172.7,707.2 1173.2,706.0 1173.6,704.8 1174.1,703.7 1174.6,702.7 1175.1,701.7 1175.6,700.8 1176.1,699.9 1176.6,699.1 1177.1,698.4 1177.7,697.6 1178.2,697.0 1178.8,696.4 1179.3,695.8 1179.9,695.3 1180.5,694.9 1181.1,694.5 1181.7,694.3 1182.3,694.0 1182.9,693.9 1183.5,693.8 1183.9,693.8 1184.2,693.8 1184.5,693.8 1184.9,693.8 1185.2,693.9 1185.6,694.0 1185.9,694.1 1186.2,694.4 1186.5,694.7 1186.8,695.1 1187.1,695.7 1187.4,696.4 1187.7,697.2 1188.0,698.2 1188.2,699.4 1188.5,700.8 1188.7,702.3 1188.9,704.0 1189.1,705.9 1189.3,708.0 1189.5,710.3 1189.6,712.7 1189.8,715.2 1189.9,717.9 1190.0,720.7 1190.1,723.6 1190.1,726.6 1190.2,729.6 1190.2,732.7 1190.2,735.8 1190.2,761.3"/>
<polyline points="1192.8,918.9 1192.8,918.5 1192.8,917.3 1192.8,915.2 1192.9,912.4 1192.9,908.8 1193.0,904.4 1193.0,899.4 1193.1,893.8 1193.2,887.6 1193.3,881.1 1193.3,874.2 1193.5,866.8 1193.6,859.1 1193.7,851.2 1193.8,843.2 1194.0,835.3 1194.1,827.2 1194.3,818.9 1194.4,810.5 1194.6,802.2 1194.8,794.3 1195.0,786.9 1195.2,780.0 1195.4,773.5 1195.6,767.3 1195.9,761.5 1196.1,756.0 1196.4,750.7 1196.6,745.7 1196.9,741.0 1197.2,736.8 1197.4,733.0 1197.7,729.5 1198.0,726.1 1198.3,722.9 1198.7,719.8 1199.0,717.0 1199.3,714.3 1199.7,711.8 1200.0,709.4 1200.4,707.2 1200.8,705.1 1201.2,703.1 1201.6,701.3 1202.0,699.7 1202.4,698.1 1202.8,696.6 1203.2,695.3 1203.7,693.9 1204.1,692.7 1204.6,691.5 1205.1,690.4 1205.5,689.3 1206.0,688.3 1206.5,687.3 1207.0,686.4 1207.5,685.5 1208.0,684.6 1208.6,683.9 1209.1,683.2 1209.7,682.5 1210.2,681.9 1210.8,681.4 1211.4,680.9 1211.9,680.4 1212.5,680.0 1213.1,679.8 1213.7,679.5 1214.4,679.4 1215.0,679.3 1215.3,679.3 1215.7,679.3 1216.0,679.3 1216.4,679.3 1216.7,679.4 1217.0,679.5 1217.4,679.6 1217.7,679.9 1218.0,680.2 1218.3,680.6 1218.6,681.2 1218.9,681.9 1219.2,682.7 1219.4,683.7 1219.7,684.9 1219.9,686.3 1220.1,687.8 1220.3,689.5 1220.5,691.4 1220.7,693.5 1220.9,695.8 1221.0,698.2 1221.2,700.7 1221.3,703.4 1221.4,706.2 1221.5,709.1 1221.5,712.1 1221.6,715.1 1221.6,718.2 1221.6,721.3 1221.6,749.9"/>
<polyline points="1224.5,913.2 1224.5,912.8 1224.5,911.4 1224.5,909.3 1224.6,906.2 1224.6,902.4 1224.7,897.7 1224.7,892.4 1224.8,886.4 1224.9,879.8 1224.9,872.9 1225.0,865.5 1225.1,857.7 1225.2,849.5 1225.4,841.1 1225.5,832.7 1225.6,824.3 1225.8,815.7 1225.9,806.9 1226.1,798.1 1226.3,789.4 1226.4,781.1 1226.6,773.3 1226.8,766.2 1227.0,759.4 1227.2,753.0 1227.5,746.9 1227.7,741.3 1227.9,735.9 1228.2,730.7 1228.4,725.9 1228.7,721.6 1229.0,717.8 1229.3,714.2 1229.6,710.8 1229.9,707.6 1230.2,704.5 1230.5,701.7 1230.8,699.0 1231.2,696.5 1231.5,694.1 1231.9,691.9 1232.2,689.8 1232.6,687.8 1233.0,686.0 1233.4,684.4 1233.8,682.8 1234.2,681.4 1234.6,680.0 1235.0,678.7 1235.5,677.5 1235.9,676.3 1236.4,675.2 1236.8,674.2 1237.3,673.2 1237.8,672.2 1238.3,671.3 1238.8,670.4 1239.3,669.6 1239.8,668.8 1240.3,668.1 1240.8,667.4 1241.4,666.8 1241.9,666.3 1242.5,665.8 1243.0,665.3 1243.6,664.9 1244.2,664.7 1244.8,664.4 1245.4,664.3 1246.0,664.2 1246.4,664.2 1246.7,664.2 1247.1,664.2 1247.4,664.2 1247.8,664.3 1248.1,664.4 1248.4,664.5 1248.8,664.8 1249.1,665.1 1249.4,665.5 1249.7,666.1 1250.0,666.8 1250.3,667.6 1250.6,668.6 1250.8,669.8 1251.1,671.2 1251.3,672.7 1251.5,674.4 1251.7,676.3 1251.9,678.4 1252.1,680.7 1252.2,683.1 1252.3,685.6 1252.5,688.3 1252.6,691.1 1252.7,694.0 1252.7,697.0 1252.8,700.0 1252.8,703.1 1252.8,706.2 1252.8,738.5"/>
<polyline points="1255.5,908.2 1255.5,907.7 1255.5,906.3 1255.5,904.0 1255.6,900.7 1255.6,896.6 1255.7,891.6 1255.7,885.9 1255.8,879.5 1255.9,872.5 1255.9,865.1 1256.0,857.2 1256.1,848.9 1256.2,840.2 1256.4,831.3 1256.5,822.3 1256.6,813.5 1256.8,804.4 1256.9,795.1 1257.1,785.8 1257.3,776.6 1257.4,767.8 1257.6,759.7 1257.8,752.2 1258.0,745.2 1258.2,738.5 1258.5,732.2 1258.7,726.4 1258.9,720.8 1259.2,715.5 1259.4,710.6 1259.7,706.2 1260.0,702.4 1260.3,698.7 1260.6,695.3 1260.9,692.0 1261.2,688.9 1261.5,686.1 1261.8,683.4 1262.2,680.9 1262.5,678.5 1262.9,676.3 1263.2,674.2 1263.6,672.2 1264.0,670.4 1264.4,668.8 1264.8,667.3 1265.2,665.8 1265.6,664.5 1266.0,663.2 1266.5,662.0 1266.9,660.9 1267.4,659.8 1267.8,658.7 1268.3,657.7 1268.8,656.8 1269.3,655.9 1269.8,655.0 1270.3,654.2 1270.8,653.4 1271.3,652.7 1271.8,652.1 1272.4,651.5 1272.9,650.9 1273.5,650.4 1274.0,649.9 1274.6,649.5 1275.2,649.3 1275.8,649.0 1276.4,648.9 1277.0,648.8 1277.4,648.8 1277.7,648.8 1278.1,648.8 1278.5,648.8 1278.8,648.9 1279.2,649.0 1279.5,649.1 1279.8,649.4 1280.2,649.7 1280.5,650.1 1280.8,650.7 1281.1,651.4 1281.4,652.2 1281.7,653.2 1281.9,654.4 1282.2,655.8 1282.4,657.3 1282.7,659.0 1282.9,660.9 1283.1,663.0 1283.2,665.3 1283.4,667.7 1283.5,670.2 1283.7,672.9 1283.8,675.7 1283.8,678.6 1283.9,681.6 1284.0,684.6 1284.0,687.7 1284.0,690.8 1284.0,725.9"/>
<polyline points="1287.2,839.3 1287.3,830.0 1287.4,820.5 1287.5,811.0 1287.7,801.5 1287.8,791.9 1288.0,782.0 1288.2,772.1 1288.3,762.4 1288.5,753.1 1288.7,744.5 1288.9,736.7 1289.1,729.3 1289.4,722.3 1289.6,715.8 1289.8,709.8 1290.1,704.0 1290.4,698.5 1290.6,693.5 1290.9,689.0 1291.2,685.1 1291.5,681.4 1291.8,677.9 1292.1,674.6 1292.5,671.5 1292.8,668.6 1293.1,665.9 1293.5,663.4 1293.8,661.0 1294.2,658.7 1294.6,656.6 1295.0,654.7 1295.4,652.9 1295.8,651.3 1296.2,649.8 1296.6,648.3 1297.1,647.0 1297.5,645.8 1298.0,644.6 1298.4,643.4 1298.9,642.4 1299.4,641.4 1299.9,640.4 1300.4,639.4 1300.9,638.5 1301.4,637.6 1301.9,636.8 1302.5,636.0 1303.0,635.3 1303.6,634.7 1304.2,634.1 1304.7,633.6 1305.3,633.0 1305.9,632.5 1306.5,632.1 1307.1,631.9 1307.7,631.6 1308.4,631.5 1309.0,631.4 1309.3,631.4 1309.7,631.4 1310.0,631.4 1310.3,631.4 1310.7,631.5 1311.0,631.6 1311.3,631.7 1311.6,632.0 1311.9,632.3 1312.2,632.7 1312.5,633.3 1312.8,634.0 1313.0,634.8 1313.3,635.8 1313.5,637.0 1313.8,638.4 1314.0,639.9 1314.2,641.6 1314.4,643.5 1314.5,645.6 1314.7,647.9 1314.8,650.3 1315.0,652.8 1315.1,655.5 1315.2,658.3 1315.3,661.2 1315.3,664.2 1315.4,667.2 1315.4,670.3 1315.4,673.4 1315.4,715.1"/>
<polyline points="1318.1,837.6 1318.2,828.1 1318.3,818.3 1318.4,808.1 1318.5,798.0 1318.7,787.9 1318.8,777.7 1319.0,767.2 1319.2,756.7 1319.3,746.4 1319.5,736.6 1319.7,727.5 1319.9,719.4 1320.1,711.6 1320.4,704.4 1320.6,697.6 1320.8,691.4 1321.1,685.4 1321.4,679.8 1321.6,674.5 1321.9,669.9 1322.2,666.0 1322.5,662.2 1322.8,658.7 1323.1,655.3 1323.5,652.2 1323.8,649.3 1324.1,646.6 1324.5,644.1 1324.8,641.7 1325.2,639.5 1325.6,637.4 1326.0,635.4 1326.4,633.7 1326.8,632.0 1327.2,630.6 1327.6,629.2 1328.1,627.9 1328.5,626.7 1329.0,625.5 1329.4,624.4 1329.9,623.3 1330.4,622.3 1330.9,621.4 1331.4,620.4 1331.9,619.5 1332.4,618.6 1332.9,617.8 1333.5,617.1 1334.0,616.4 1334.6,615.7 1335.2,615.1 1335.7,614.6 1336.3,614.0 1336.9,613.5 1337.5,613.1 1338.1,612.9 1338.7,612.6 1339.4,612.5 1340.0,612.4 1340.4,612.4 1340.7,612.4 1341.1,612.4 1341.4,612.4 1341.8,612.5 1342.1,612.6 1342.4,612.7 1342.8,613.0 1343.1,613.3 1343.4,613.7 1343.7,614.3 1344.0,615.0 1344.3,615.8 1344.6,616.8 1344.8,618.0 1345.1,619.4 1345.3,620.9 1345.5,622.6 1345.7,624.5 1345.9,626.6 1346.1,628.9 1346.2,631.3 1346.3,633.8 1346.5,636.5 1346.6,639.3 1346.7,642.2 1346.7,645.2 1346.8,648.2 1346.8,651.3 1346.8,654.4 1346.8,701.4"/>
<polyline points="1349.7,827.4 1349.9,817.2 1350.0,806.7 1350.1,795.9 1350.2,785.0 1350.4,774.4 1350.5,763.4 1350.7,752.3 1350.8,741.1 1351.0,730.2 1351.2,719.8 1351.4,710.2 1351.6,701.7 1351.8,693.6 1352.0,686.0 1352.3,679.0 1352.5,672.4 1352.8,666.3 1353.0,660.4 1353.3,655.1 1353.6,650.3 1353.8,646.3 1354.1,642.5 1354.4,638.9 1354.8,635.5 1355.1,632.4 1355.4,629.5 1355.7,626.8 1356.1,624.2 1356.4,621.8 1356.8,619.6 1357.2,617.5 1357.6,615.6 1358.0,613.8 1358.4,612.2 1358.8,610.8 1359.2,609.4 1359.6,608.1 1360.1,606.9 1360.5,605.8 1361.0,604.7 1361.5,603.7 1361.9,602.7 1362.4,601.8 1362.9,600.8 1363.4,599.9 1363.9,599.0 1364.4,598.2 1365.0,597.5 1365.5,596.8 1366.1,596.2 1366.6,595.6 1367.2,595.0 1367.8,594.5 1368.3,594.0 1368.9,593.5 1369.5,593.3 1370.1,593.0 1370.8,592.9 1371.4,592.8 1371.7,592.8 1372.1,592.8 1372.4,592.8 1372.7,592.8 1373.1,592.9 1373.4,593.0 1373.7,593.1 1374.0,593.4 1374.3,593.7 1374.6,594.1 1374.9,594.7 1375.2,595.4 1375.4,596.2 1375.7,597.2 1375.9,598.4 1376.2,599.8 1376.4,601.3 1376.6,603.0 1376.8,604.9 1376.9,607.0 1377.1,609.3 1377.2,611.7 1377.4,614.2 1377.5,616.9 1377.6,619.7 1377.7,622.6 1377.7,625.6 1377.8,628.6 1377.8,631.7 1377.8,634.8 1377.8,686.9"/>
<polyline points="1380.9,816.1 1381.0,805.2 1381.1,794.0 1381.2,782.5 1381.4,771.0 1381.5,759.7 1381.7,748.1 1381.8,736.3 1382.0,724.5 1382.2,712.9 1382.4,701.9 1382.6,691.9 1382.8,682.9 1383.0,674.5 1383.3,666.6 1383.5,659.3 1383.8,652.5 1384.0,646.2 1384.3,640.2 1384.6,634.6 1384.9,629.8 1385.2,625.7 1385.5,621.8 1385.8,618.2 1386.1,614.9 1386.5,611.7 1386.8,608.8 1387.2,606.1 1387.5,603.6 1387.9,601.2 1388.3,599.0 1388.7,596.9 1389.1,595.0 1389.5,593.2 1389.9,591.7 1390.4,590.2 1390.8,588.9 1391.3,587.7 1391.7,586.5 1392.2,585.4 1392.7,584.4 1393.2,583.4 1393.7,582.4 1394.2,581.5 1394.7,580.6 1395.2,579.7 1395.7,578.8 1396.3,578.0 1396.9,577.3 1397.4,576.6 1398.0,576.0 1398.6,575.4 1399.2,574.9 1399.8,574.3 1400.4,573.8 1401.0,573.3 1401.6,573.1 1402.3,572.8 1402.9,572.7 1403.6,572.6 1403.9,572.6 1404.2,572.6 1404.5,572.6 1404.8,572.6 1405.1,572.7 1405.4,572.8 1405.7,572.9 1406.0,573.2 1406.2,573.5 1406.5,573.9 1406.8,574.5 1407.0,575.2 1407.3,576.0 1407.5,577.0 1407.7,578.2 1407.9,579.6 1408.1,581.1 1408.3,582.8 1408.5,584.7 1408.6,586.8 1408.8,589.1 1408.9,591.5 1409.0,594.0 1409.1,596.7 1409.2,599.5 1409.3,602.4 1409.3,605.4 1409.4,608.4 1409.4,611.5 1409.4,614.6 1409.4,672.9"/>
<polyline points="1411.9,813.3 1412.0,801.8 1412.0,790.1 1412.2,777.9 1412.3,765.4 1412.4,753.0 1412.5,741.0 1412.7,729.5 1412.8,718.1 1413.0,706.5 1413.1,695.0 1413.3,683.9 1413.5,673.4 1413.7,663.9 1413.9,655.4 1414.1,647.5 1414.3,640.1 1414.6,633.2 1414.8,626.9 1415.1,620.9 1415.3,615.3 1415.6,610.1 1415.9,605.6 1416.1,601.6 1416.4,598.0 1416.7,594.5 1417.0,591.3 1417.4,588.3 1417.7,585.4 1418.0,582.8 1418.4,580.4 1418.7,578.1 1419.1,576.0 1419.5,573.9 1419.9,572.1 1420.3,570.4 1420.7,568.9 1421.1,567.5 1421.5,566.2 1421.9,565.0 1422.4,563.8 1422.8,562.8 1423.3,561.7 1423.8,560.8 1424.2,559.8 1424.7,558.9 1425.2,558.1 1425.7,557.2 1426.2,556.4 1426.7,555.6 1427.3,554.9 1427.8,554.2 1428.4,553.6 1428.9,553.1 1429.5,552.6 1430.1,552.0 1430.6,551.5 1431.2,551.1 1431.8,550.9 1432.4,550.6 1433.1,550.5 1433.7,550.4 1434.0,550.4 1434.4,550.4 1434.7,550.4 1435.0,550.4 1435.3,550.5 1435.6,550.6 1436.0,550.7 1436.3,551.0 1436.6,551.3 1436.8,551.7 1437.1,552.3 1437.4,553.0 1437.7,553.8 1437.9,554.8 1438.2,556.0 1438.4,557.4 1438.6,558.9 1438.8,560.6 1439.0,562.5 1439.2,564.6 1439.3,566.9 1439.5,569.3 1439.6,571.8 1439.7,574.5 1439.8,577.3 1439.9,580.2 1439.9,583.2 1440.0,586.2 1440.0,589.3 1440.0,592.4 1440.0,657.9"/>
<polyline points="1442.8,803.2 1442.9,789.2 1443.0,775.9 1443.1,762.6 1443.2,749.0 1443.3,735.3 1443.4,721.9 1443.5,709.3 1443.7,697.9 1443.8,686.6 1444.0,675.4 1444.2,664.4 1444.4,653.7 1444.5,643.8 1444.7,634.9 1445.0,627.0 1445.2,619.7 1445.4,612.9 1445.6,606.6 1445.9,600.7 1446.1,595.2 1446.4,590.0 1446.7,585.2 1447.0,581.0 1447.2,577.3 1447.5,573.9 1447.9,570.6 1448.2,567.6 1448.5,564.7 1448.8,562.0 1449.2,559.5 1449.5,557.2 1449.9,555.0 1450.3,553.0 1450.7,551.0 1451.1,549.2 1451.5,547.6 1451.9,546.2 1452.3,544.8 1452.7,543.5 1453.2,542.4 1453.6,541.3 1454.1,540.2 1454.5,539.2 1455.0,538.3 1455.5,537.4 1456.0,536.5 1456.5,535.7 1457.0,534.9 1457.6,534.1 1458.1,533.3 1458.6,532.7 1459.2,532.0 1459.7,531.5 1460.3,530.9 1460.9,530.4 1461.5,529.9 1462.1,529.5 1462.7,529.1 1463.3,528.8 1463.9,528.6 1464.6,528.5 1465.2,528.4 1465.5,528.4 1465.8,528.4 1466.1,528.4 1466.4,528.4 1466.8,528.5 1467.1,528.6 1467.4,528.7 1467.6,529.0 1467.9,529.3 1468.2,529.7 1468.5,530.3 1468.7,531.0 1469.0,531.8 1469.2,532.8 1469.4,534.0 1469.7,535.4 1469.9,536.9 1470.1,538.6 1470.2,540.5 1470.4,542.6 1470.5,544.9 1470.7,547.3 1470.8,549.8 1470.9,552.5 1471.0,555.3 1471.1,558.2 1471.1,561.2 1471.2,564.2 1471.2,567.3 1471.2,570.4 1471.2,642.9"/>
<polyline points="1473.7,796.1 1473.8,779.6 1473.9,762.9 1474.0,747.4 1474.1,732.5 1474.2,717.3 1474.3,702.2 1474.4,687.7 1474.6,674.5 1474.7,663.0 1474.9,651.9 1475.0,641.0 1475.2,630.4 1475.4,620.4 1475.6,611.1 1475.8,602.8 1476.0,595.5 1476.2,588.8 1476.4,582.6 1476.7,576.9 1476.9,571.6 1477.2,566.6 1477.5,561.8 1477.7,557.4 1478.0,553.6 1478.3,550.2 1478.6,546.9 1478.9,543.9 1479.3,541.0 1479.6,538.3 1480.0,535.7 1480.3,533.4 1480.7,531.2 1481.0,529.1 1481.4,527.1 1481.8,525.3 1482.2,523.6 1482.6,522.0 1483.0,520.6 1483.5,519.3 1483.9,518.1 1484.4,516.9 1484.8,515.9 1485.3,514.8 1485.8,513.9 1486.2,513.0 1486.7,512.1 1487.2,511.3 1487.8,510.5 1488.3,509.7 1488.8,509.0 1489.4,508.3 1489.9,507.6 1490.5,507.0 1491.0,506.5 1491.6,506.0 1492.2,505.5 1492.8,505.0 1493.4,504.6 1494.0,504.3 1494.7,504.0 1495.3,503.8 1495.9,503.7 1496.6,503.6 1496.9,503.6 1497.3,503.6 1497.6,503.6 1497.9,503.6 1498.3,503.7 1498.6,503.8 1498.9,503.9 1499.2,504.2 1499.5,504.5 1499.8,504.9 1500.1,505.5 1500.4,506.2 1500.6,507.0 1500.9,508.0 1501.1,509.2 1501.4,510.6 1501.6,512.1 1501.8,513.8 1502.0,515.7 1502.1,517.8 1502.3,520.1 1502.4,522.5 1502.6,525.0 1502.7,527.7 1502.8,530.5 1502.9,533.4 1502.9,536.4 1503.0,539.4 1503.0,542.5 1503.0,545.6 1503.0,627.9"/>
<polyline points="1505.9,734.6 1506.0,717.0 1506.1,700.3 1506.2,683.4 1506.3,666.9 1506.4,651.4 1506.5,637.6 1506.7,626.1 1506.8,615.3 1507.0,604.8 1507.2,594.8 1507.3,585.4 1507.5,576.9 1507.7,569.4 1507.9,562.8 1508.1,556.8 1508.4,551.3 1508.6,546.3 1508.8,541.6 1509.1,537.1 1509.4,532.9 1509.6,529.0 1509.9,525.5 1510.2,522.4 1510.5,519.5 1510.8,516.7 1511.1,514.0 1511.5,511.5 1511.8,509.1 1512.1,506.9 1512.5,504.8 1512.8,502.9 1513.2,501.0 1513.6,499.3 1514.0,497.7 1514.4,496.2 1514.8,494.9 1515.2,493.6 1515.6,492.4 1516.1,491.3 1516.5,490.3 1517.0,489.3 1517.4,488.4 1517.9,487.5 1518.4,486.7 1518.9,485.9 1519.4,485.2 1519.9,484.5 1520.4,483.8 1520.9,483.1 1521.5,482.6 1522.0,482.0 1522.6,481.5 1523.2,481.0 1523.7,480.5 1524.3,480.1 1524.9,479.7 1525.5,479.4 1526.1,479.2 1526.7,479.0 1527.4,478.9 1528.0,478.8 1528.3,478.8 1528.7,478.8 1529.0,478.8 1529.3,478.8 1529.7,478.9 1530.0,479.0 1530.3,479.1 1530.6,479.4 1530.9,479.7 1531.2,480.1 1531.5,480.7 1531.8,481.4 1532.0,482.2 1532.3,483.2 1532.5,484.4 1532.8,485.8 1533.0,487.3 1533.2,489.0 1533.4,490.9 1533.5,493.0 1533.7,495.3 1533.8,497.7 1534.0,500.2 1534.1,502.9 1534.2,505.7 1534.3,508.6 1534.3,511.6 1534.4,514.6 1534.4,517.7 1534.4,520.8 1534.4,610.9"/>
<polyline points="1536.8,726.5 1536.9,704.0 1537.0,683.9 1537.1,665.3 1537.2,646.7 1537.3,628.8 1537.4,612.1 1537.5,597.6 1537.7,586.2 1537.8,575.7 1538.0,565.7 1538.2,556.3 1538.4,547.7 1538.6,539.9 1538.8,533.3 1539.0,527.5 1539.2,522.3 1539.4,517.6 1539.6,513.3 1539.9,509.2 1540.1,505.4 1540.4,501.8 1540.7,498.4 1541.0,495.4 1541.3,492.6 1541.6,490.0 1541.9,487.4 1542.2,485.0 1542.5,482.6 1542.9,480.5 1543.2,478.4 1543.6,476.5 1543.9,474.7 1544.3,473.0 1544.7,471.4 1545.1,469.9 1545.5,468.5 1545.9,467.2 1546.3,466.0 1546.8,464.9 1547.2,463.9 1547.7,462.9 1548.1,462.0 1548.6,461.1 1549.1,460.2 1549.6,459.5 1550.1,458.7 1550.6,458.0 1551.1,457.4 1551.6,456.8 1552.2,456.2 1552.7,455.6 1553.3,455.1 1553.8,454.6 1554.4,454.2 1555.0,453.8 1555.6,453.4 1556.2,453.1 1556.8,452.8 1557.4,452.6 1558.0,452.4 1558.7,452.3 1559.3,452.2 1559.7,452.2 1560.0,452.2 1560.3,452.2 1560.7,452.2 1561.0,452.3 1561.4,452.4 1561.7,452.5 1562.0,452.8 1562.3,453.1 1562.6,453.5 1562.9,454.1 1563.2,454.8 1563.5,455.6 1563.8,456.6 1564.0,457.8 1564.3,459.2 1564.5,460.7 1564.7,462.4 1564.9,464.3 1565.1,466.4 1565.3,468.7 1565.4,471.1 1565.6,473.6 1565.7,476.3 1565.8,479.1 1565.9,482.0 1565.9,485.0 1566.0,488.0 1566.0,491.1 1566.0,494.2 1566.0,592.9"/>
<polyline points="1568.7,723.0 1568.8,696.5 1568.9,670.7 1569.0,648.2 1569.1,627.6 1569.2,607.2 1569.3,587.6 1569.4,569.8 1569.5,554.7 1569.7,543.3 1569.8,533.2 1570.0,523.8 1570.2,515.1 1570.3,507.3 1570.5,500.5 1570.7,494.7 1570.9,489.8 1571.1,485.5 1571.4,481.6 1571.6,478.1 1571.8,474.8 1572.1,471.7 1572.4,468.7 1572.6,465.9 1572.9,463.4 1573.2,461.0 1573.5,458.7 1573.8,456.4 1574.1,454.2 1574.5,452.1 1574.8,450.2 1575.1,448.3 1575.5,446.6 1575.8,444.9 1576.2,443.4 1576.6,441.9 1577.0,440.5 1577.4,439.2 1577.8,438.0 1578.2,436.9 1578.6,435.9 1579.1,434.9 1579.5,434.0 1580.0,433.1 1580.4,432.3 1580.9,431.5 1581.4,430.7 1581.9,430.1 1582.4,429.4 1582.9,428.9 1583.4,428.3 1583.9,427.8 1584.5,427.3 1585.0,426.8 1585.6,426.3 1586.2,425.9 1586.7,425.6 1587.3,425.2 1587.9,425.0 1588.5,424.7 1589.1,424.6 1589.7,424.4 1590.4,424.3 1591.0,424.2 1591.3,424.2 1591.6,424.2 1592.0,424.2 1592.3,424.2 1592.6,424.3 1592.9,424.4 1593.2,424.5 1593.5,424.8 1593.8,425.1 1594.1,425.5 1594.4,426.1 1594.6,426.8 1594.9,427.6 1595.1,428.6 1595.4,429.8 1595.6,431.2 1595.8,432.7 1596.0,434.4 1596.2,436.3 1596.4,438.4 1596.5,440.7 1596.7,443.1 1596.8,445.6 1596.9,448.3 1597.0,451.1 1597.1,454.0 1597.1,457.0 1597.2,460.0 1597.2,463.1 1597.2,466.2 1597.2,574.9"/>
<polyline points="1599.9,740.6 1599.9,738.3 1600.0,736.0 1600.0,733.7 1600.0,731.5 1600.0,729.2 1600.0,726.9 1600.0,724.6 1600.1,722.3 1600.1,720.0 1600.1,717.7 1600.1,715.4 1600.1,713.1 1600.1,710.9 1600.1,708.6 1600.2,706.3 1600.2,704.0 1600.2,701.7 1600.2,699.4 1600.2,697.1 1600.2,694.8 1600.2,692.5 1600.3,690.2 1600.3,688.0 1600.3,685.7 1600.3,683.4 1600.3,681.1 1600.3,678.8 1600.3,676.5 1600.4,674.2 1600.4,671.9 1600.4,669.6 1600.4,667.3 1600.4,665.1 1600.4,662.8 1600.4,660.5 1600.4,658.2 1600.5,655.9 1600.5,653.6 1600.5,651.3 1600.5,649.0 1600.5,646.7 1600.5,644.4 1600.5,642.2 1600.5,639.9 1600.5,637.6 1600.6,635.3 1600.6,633.0 1600.6,630.7 1600.6,628.4 1600.6,626.1 1600.6,623.8 1600.6,621.5 1600.6,619.3 1600.7,617.0 1600.7,614.7 1600.7,612.4 1600.7,610.1 1600.7,607.8 1600.7,605.5 1600.7,603.2 1600.7,600.9 1600.8,598.7 1600.8,596.4 1600.8,594.1 1600.8,591.8 1600.8,589.5 1600.8,587.2 1600.8,584.9 1600.8,582.6 1600.9,580.3 1600.9,578.0 1600.9,575.8 1600.9,573.5 1600.9,571.2 1600.9,568.9 1601.0,566.6 1601.0,564.3 1601.0,562.0 1601.0,559.7 1601.0,557.4 1601.0,555.1 1601.0,552.9 1601.1,550.6 1601.1,548.3 1601.1,546.0 1601.1,543.7 1601.1,541.4 1601.1,539.1 1601.1,536.8 1601.2,534.5 1601.2,532.2 1601.2,530.0 1601.2,527.7 1601.2,525.4 1601.2,523.1 1601.2,520.8 1601.3,518.5 1601.3,516.2 1601.3,513.9 1601.3,511.6 1601.3,509.3 1601.3,507.0 1601.3,504.8 1601.4,502.5 1601.4,500.2 1601.4,497.9 1601.4,495.6 1601.4,493.3 1601.5,491.0 1601.5,488.7 1601.5,486.4 1601.5,484.1 1601.6,481.9 1601.6,479.6 1601.6,477.3 1601.7,475.0 1601.7,472.7 1601.7,470.4 1601.8,468.1 1601.8,465.8 1601.8,463.5 1601.9,461.3 1601.9,459.0 1602.0,456.7 1602.0,454.4 1602.1,452.1 1602.2,449.8 1602.3,447.5 1602.5,445.3 1602.7,443.0 1602.9,440.7 1603.1,438.4 1603.3,436.1 1603.5,433.8 1603.8,431.6 1604.1,429.3 1604.5,427.0 1604.9,424.8 1605.3,422.5 1605.8,420.3 1606.3,418.0 1606.9,415.8 1607.5,413.6 1608.2,411.4 1608.9,409.3 1609.7,407.1 1610.7,405.0 1611.7,402.9 1612.9,400.9 1614.3,399.2 1615.9,397.5 1617.8,396.0 1619.8,395.0 1622.1,394.7 1624.3,394.6 1626.5,395.8 1627.8,397.5 1628.5,399.5 1629.0,401.8 1629.4,404.3 1629.6,406.6 1629.8,408.9 1630.0,411.1 1630.1,413.4 1630.2,415.7 1630.3,418.0 1630.4,420.3 1630.5,422.6 1630.5,424.9 1630.6,427.2 1630.6,429.5 1630.6,431.8 1630.6,434.1 1630.6,436.3 1630.7,438.6 1630.7,440.9 1630.7,443.2 1630.7,445.5 1630.7,447.8 1630.7,450.1 1630.7,452.4 1630.8,454.7 1630.8,456.9 1630.8,459.2 1630.8,461.5 1630.8,463.8 1630.8,466.1 1630.8,468.4 1630.8,470.7 1630.8,473.0 1630.8,475.3 1630.9,477.5 1630.9,479.8 1630.9,482.1 1630.9,484.4 1630.9,486.7 1630.9,489.0 1630.9,491.3 1630.9,493.6 1630.9,495.9 1630.9,498.2 1630.9,500.4 1630.9,502.7 1630.9,505.0 1630.9,507.3 1631.0,509.6 1631.0,511.9 1631.0,514.2 1631.0,516.5 1631.0,518.8 1631.0,521.1 1631.0,523.3 1631.0,525.6 1631.0,527.9 1631.0,530.2 1631.0,532.5 1631.0,534.8 1631.0,537.1 1631.0,539.4 1631.0,541.7 1631.0,544.0 1631.0,546.3 1631.0,548.5 1631.0,550.8 1631.0,553.1 1631.0,555.4 1631.0,557.7 1631.0,560.0"/>
<polyline points="1631.8,741.9 1631.8,739.4 1631.8,736.9 1631.8,734.3 1631.8,731.8 1631.9,729.3 1631.9,726.7 1631.9,724.2 1631.9,721.7 1631.9,719.1 1631.9,716.6 1631.9,714.1 1631.9,711.5 1632.0,709.0 1632.0,706.5 1632.0,703.9 1632.0,701.4 1632.0,698.9 1632.0,696.4 1632.0,693.8 1632.0,691.3 1632.1,688.8 1632.1,686.2 1632.1,683.7 1632.1,681.2 1632.1,678.6 1632.1,676.1 1632.1,673.6 1632.1,671.0 1632.1,668.5 1632.1,666.0 1632.2,663.5 1632.2,660.9 1632.2,658.4 1632.2,655.9 1632.2,653.3 1632.2,650.8 1632.2,648.3 1632.2,645.7 1632.2,643.2 1632.3,640.7 1632.3,638.1 1632.3,635.6 1632.3,633.1 1632.3,630.5 1632.3,628.0 1632.3,625.5 1632.3,623.0 1632.3,620.4 1632.3,617.9 1632.4,615.4 1632.4,612.8 1632.4,610.3 1632.4,607.8 1632.4,605.2 1632.4,602.7 1632.4,600.2 1632.4,597.6 1632.4,595.1 1632.5,592.6 1632.5,590.0 1632.5,587.5 1632.5,585.0 1632.5,582.5 1632.5,579.9 1632.5,577.4 1632.5,574.9 1632.5,572.3 1632.6,569.8 1632.6,567.3 1632.6,564.7 1632.6,562.2 1632.6,559.7 1632.6,557.1 1632.6,554.6 1632.6,552.1 1632.6,549.5 1632.7,547.0 1632.7,544.5 1632.7,542.0 1632.7,539.4 1632.7,536.9 1632.7,534.4 1632.7,531.8 1632.7,529.3 1632.7,526.8 1632.7,524.2 1632.7,521.7 1632.8,519.2 1632.8,516.6 1632.8,514.1 1632.8,511.6 1632.8,509.0 1632.8,506.5 1632.8,504.0 1632.8,501.4 1632.8,498.9 1632.9,496.4 1632.9,493.8 1632.9,491.3 1632.9,488.8 1632.9,486.3 1632.9,483.7 1632.9,481.2 1633.0,478.7 1633.0,476.1 1633.0,473.6 1633.0,471.1 1633.1,468.5 1633.1,466.0 1633.1,463.5 1633.1,461.0 1633.2,458.4 1633.2,455.9 1633.2,453.4 1633.3,450.8 1633.4,448.3 1633.5,445.8 1633.7,443.3 1633.9,440.7 1634.0,438.2 1634.2,435.7 1634.4,433.2 1634.6,430.6 1634.8,428.1 1635.0,425.6 1635.1,423.1 1635.3,420.5 1635.4,418.0 1635.6,415.5 1635.7,412.9 1635.9,410.4 1636.0,407.9 1636.2,405.3 1636.4,402.8 1636.7,400.3 1636.9,397.8 1637.2,395.3 1637.6,392.8 1638.0,390.3 1638.5,387.8 1639.1,385.3 1639.8,382.9 1640.5,380.5 1641.4,378.1 1642.5,375.8 1643.8,373.5 1645.1,371.4 1646.5,369.3 1648.1,367.3 1649.9,365.4 1651.9,364.0 1654.3,363.0 1656.5,364.1 1658.1,366.2 1658.9,368.4 1659.6,370.9 1660.1,373.5 1660.4,376.1 1660.6,378.6 1660.8,381.1 1660.9,383.6 1661.1,386.1 1661.2,388.6 1661.3,391.2 1661.4,393.7 1661.5,396.3 1661.5,398.8 1661.6,401.3 1661.6,403.9 1661.6,406.4 1661.6,408.9 1661.6,411.5 1661.6,414.0 1661.7,416.5 1661.7,419.1 1661.7,421.6 1661.7,424.1 1661.7,426.7 1661.7,429.2 1661.7,431.7 1661.7,434.2 1661.8,436.8 1661.8,439.3 1661.8,441.8 1661.8,444.4 1661.8,446.9 1661.8,449.4 1661.8,452.0 1661.8,454.5 1661.8,457.0 1661.8,459.5 1661.8,462.1 1661.9,464.6 1661.9,467.1 1661.9,469.7 1661.9,472.2 1661.9,474.7 1661.9,477.3 1661.9,479.8 1661.9,482.3 1661.9,484.9 1661.9,487.4 1661.9,489.9 1661.9,492.4 1661.9,495.0 1661.9,497.5 1661.9,500.0 1661.9,502.6 1661.9,505.1 1662.0,507.6 1662.0,510.2 1662.0,512.7 1662.0,515.2 1662.0,517.8 1662.0,520.3 1662.0,522.8 1662.0,525.4 1662.0,527.9 1662.0,530.4 1662.0,532.9 1662.0,535.5 1662.0,538.0 1662.0,540.5 1662.0,543.1 1662.0,545.6 1662.0,548.1 1662.0,550.7 1662.0,553.2 1662.0,555.7 1662.0,558.3 1662.0,560.8 1662.0,563.3 1662.0,565.9 1662.0,568.4 1662.0,570.9 1662.0,573.5 1662.0,576.0"/>
<polyline points="1662.8,497.6 1662.8,494.9 1662.8,492.2 1662.8,489.4 1662.8,486.7 1662.8,484.0 1662.8,481.2 1662.8,478.5 1662.8,475.8 1662.8,473.0 1662.8,470.3 1662.8,467.6 1662.8,464.8 1662.8,462.1 1662.8,459.3 1662.8,456.6 1662.8,453.9 1662.8,451.1 1662.9,448.4 1662.9,445.7 1662.9,442.9 1662.9,440.2 1662.9,437.5 1662.9,434.7 1662.9,432.0 1662.9,429.3 1662.9,426.5 1662.9,423.8 1662.9,421.1 1662.9,418.3 1662.9,415.6 1663.0,412.9 1663.0,410.1 1663.0,407.4 1663.0,404.7 1663.0,401.9 1663.0,399.2 1663.0,396.5 1663.0,393.7 1663.1,391.0 1663.1,388.2 1663.1,385.5 1663.1,382.8 1663.2,380.0 1663.2,377.3 1663.2,374.6 1663.3,371.8 1663.3,369.1 1663.4,366.4 1663.4,363.6 1663.5,360.9 1663.7,358.2 1663.9,355.5 1664.0,352.7 1664.2,350.0 1664.4,347.3 1664.6,344.5 1664.8,341.8 1665.0,339.1 1665.2,336.3 1665.4,333.6 1665.6,330.9 1665.9,328.2 1666.2,325.5 1666.7,322.7 1667.3,320.0 1668.1,317.4 1669.0,314.9 1670.4,312.5 1672.0,310.2 1673.8,308.2 1675.8,306.3 1678.0,304.6 1680.5,303.4 1683.1,302.7 1685.8,302.3 1688.6,303.1 1690.7,304.7 1691.9,306.9 1692.8,309.6 1693.4,312.5 1693.6,315.2 1693.8,317.9 1693.9,320.6 1694.1,323.3 1694.2,326.0 1694.3,328.8 1694.4,331.5 1694.4,334.3 1694.5,337.1 1694.5,339.8 1694.6,342.6 1694.6,345.3 1694.6,348.0 1694.6,350.8 1694.7,353.5 1694.7,356.2 1694.7,359.0 1694.7,361.7 1694.7,364.4 1694.7,367.2 1694.7,369.9 1694.8,372.6 1694.8,375.4 1694.8,378.1 1694.8,380.8 1694.8,383.6 1694.8,386.3 1694.8,389.0 1694.8,391.8 1694.9,394.5 1694.9,397.2 1694.9,400.0 1694.9,402.7 1694.9,405.4 1694.9,408.2 1694.9,410.9 1694.9,413.6 1694.9,416.4 1695.0,419.1 1695.0,421.8 1695.0,424.6 1695.0,427.3 1695.0,430.0 1695.0,432.8 1695.0,435.5 1695.0,438.2 1695.0,441.0 1695.0,443.7 1695.0,446.4 1695.1,449.2 1695.1,451.9 1695.1,454.7 1695.1,457.4 1695.1,460.1 1695.1,462.9 1695.1,465.6 1695.1,468.3 1695.1,471.1 1695.1,473.8 1695.1,476.5 1695.1,479.3 1695.1,482.0 1695.1,484.7 1695.1,487.5 1695.1,490.2 1695.1,492.9 1695.1,495.7 1695.2,498.4 1695.2,501.1 1695.2,503.9 1695.2,506.6 1695.2,509.3 1695.2,512.1 1695.2,514.8 1695.2,517.6 1695.2,520.3 1695.2,523.0 1695.2,525.8 1695.2,528.5 1695.2,531.2 1695.2,534.0 1695.2,536.7 1695.2,539.4 1695.2,542.2 1695.2,544.9 1695.2,547.6 1695.2,550.4 1695.2,553.1 1695.2,555.8 1695.2,558.6 1695.2,561.3 1695.2,564.1 1695.2,566.8 1695.2,569.5 1695.2,572.3 1695.2,575.0"/>
<polyline points="1695.9,573.1 1695.9,571.2 1695.9,569.2 1695.9,567.2 1695.9,565.2 1695.9,563.3 1695.9,561.3 1695.9,559.3 1695.9,557.3 1695.9,555.4 1695.9,553.4 1696.0,551.4 1696.0,549.4 1696.0,547.5 1696.0,545.5 1696.0,543.5 1696.0,541.5 1696.0,539.6 1696.0,537.6 1696.0,535.6 1696.0,533.6 1696.0,531.7 1696.0,529.7 1696.0,527.7 1696.0,525.7 1696.0,523.8 1696.0,521.8 1696.1,519.8 1696.1,517.8 1696.1,515.9 1696.1,513.9 1696.1,511.9 1696.1,509.9 1696.1,508.0 1696.1,506.0 1696.1,504.0 1696.1,502.0 1696.1,500.1 1696.1,498.1 1696.1,496.1 1696.1,494.1 1696.2,492.2 1696.2,490.2 1696.2,488.2 1696.2,486.2 1696.2,484.3 1696.2,482.3 1696.2,480.3 1696.2,478.3 1696.2,476.4 1696.2,474.4 1696.2,472.4 1696.2,470.4 1696.2,468.5 1696.3,466.5 1696.3,464.5 1696.3,462.5 1696.3,460.6 1696.3,458.6 1696.3,456.6 1696.3,454.6 1696.3,452.6 1696.3,450.7 1696.3,448.7 1696.3,446.7 1696.3,444.7 1696.4,442.8 1696.4,440.8 1696.4,438.8 1696.4,436.8 1696.4,434.9 1696.4,432.9 1696.4,430.9 1696.4,428.9 1696.4,427.0 1696.4,425.0 1696.5,423.0 1696.5,421.0 1696.5,419.1 1696.5,417.1 1696.5,415.1 1696.5,413.1 1696.5,411.2 1696.5,409.2 1696.6,407.2 1696.6,405.2 1696.6,403.3 1696.6,401.3 1696.6,399.3 1696.6,397.3 1696.6,395.4 1696.6,393.4 1696.7,391.4 1696.7,389.4 1696.7,387.5 1696.7,385.5 1696.7,383.5 1696.7,381.5 1696.8,379.6 1696.8,377.6 1696.8,375.6 1696.8,373.6 1696.8,371.7 1696.8,369.7 1696.9,367.7 1696.9,365.7 1696.9,363.8 1696.9,361.8 1697.0,359.8 1697.0,357.8 1697.0,355.9 1697.0,353.9 1697.1,351.9 1697.1,349.9 1697.1,348.0 1697.1,346.0 1697.2,344.0 1697.2,342.0 1697.2,340.0 1697.3,338.1 1697.3,336.1 1697.3,334.1 1697.4,332.2 1697.4,330.2 1697.4,328.2 1697.5,326.2 1697.5,324.3 1697.6,322.3 1697.6,320.3 1697.6,318.3 1697.7,316.4 1697.8,314.4 1697.8,312.4 1697.9,310.4 1698.0,308.5 1698.1,306.5 1698.2,304.5 1698.3,302.5 1698.4,300.6 1698.5,298.6 1698.6,296.6 1698.7,294.6 1698.8,292.7 1699.0,290.7 1699.1,288.7 1699.2,286.8 1699.3,284.8 1699.5,282.8 1699.6,280.8 1699.7,278.8 1699.9,276.9 1700.0,274.9 1700.2,272.9 1700.4,271.0 1700.6,269.0 1700.9,267.1 1701.1,265.1 1701.5,263.2 1702.0,261.2 1702.6,259.3 1703.2,257.4 1703.9,255.6 1704.8,253.9 1706.0,252.3 1707.3,250.7 1708.7,249.3 1710.1,247.9 1711.6,246.7 1713.2,245.4 1714.9,244.4 1716.7,243.5 1718.5,242.8 1720.5,242.3 1722.4,242.0 1724.3,242.6 1725.9,244.0 1726.8,245.5 1727.5,247.3 1728.0,249.4 1728.4,251.4 1728.5,253.4 1728.6,255.3 1728.7,257.2 1728.7,259.2 1728.8,261.1 1728.9,263.1 1728.9,265.0 1729.0,267.0 1729.0,269.0 1729.1,270.9 1729.1,272.9 1729.1,274.9 1729.2,276.9 1729.2,278.9 1729.2,280.9 1729.2,283.0 1729.2,285.0"/>
</g>
<g stroke-width="4.3">
<polyline points="1286.5,902.9 1286.5,902.4 1286.5,900.9 1286.5,898.4 1286.6,894.9 1286.6,890.4 1286.7,885.1 1286.7,878.9 1286.8,872.1 1286.9,864.6 1287.0,856.6 1287.1,848.2 1287.2,839.3"/>
<polyline points="1317.5,896.2 1317.5,895.7 1317.5,894.0 1317.5,891.3 1317.6,887.6 1317.6,882.8 1317.7,877.1 1317.7,870.5 1317.8,863.1 1317.9,855.1 1318.0,846.6 1318.1,837.6"/>
<polyline points="1349.2,890.2 1349.2,889.6 1349.2,887.9 1349.2,885.0 1349.3,880.9 1349.3,875.8 1349.4,869.7 1349.4,862.6 1349.5,854.7 1349.6,846.1 1349.7,837.0 1349.7,827.4"/>
<polyline points="1380.3,883.2 1380.3,882.6 1380.3,880.7 1380.3,877.6 1380.4,873.3 1380.4,867.8 1380.5,861.3 1380.5,853.7 1380.6,845.2 1380.7,836.0 1380.8,826.3 1380.9,816.1"/>
<polyline points="1411.5,875.2 1411.5,874.4 1411.5,871.8 1411.5,867.6 1411.6,861.8 1411.6,854.5 1411.7,845.7 1411.7,835.7 1411.8,824.8 1411.9,813.3"/>
<polyline points="1442.5,866.9 1442.5,865.8 1442.5,862.6 1442.5,857.3 1442.6,849.9 1442.6,840.5 1442.7,829.4 1442.7,816.8 1442.8,803.2"/>
<polyline points="1473.5,857.9 1473.5,856.6 1473.5,852.6 1473.5,846.0 1473.6,836.8 1473.6,825.2 1473.7,811.5 1473.7,796.1"/>
<polyline points="1505.5,847.9 1505.5,846.3 1505.5,841.5 1505.5,833.5 1505.6,822.5 1505.6,808.6 1505.7,792.2 1505.7,773.7 1505.8,754.1 1505.9,734.6"/>
<polyline points="1536.5,836.9 1536.5,835.0 1536.5,829.3 1536.5,819.9 1536.6,806.9 1536.6,790.5 1536.7,771.1 1536.7,749.4 1536.8,726.5"/>
<polyline points="1568.5,824.6 1568.5,822.4 1568.5,815.8 1568.5,804.8 1568.6,789.7 1568.6,770.6 1568.7,748.1 1568.7,723.0"/>
<polyline points="1599.4,811.6 1599.4,809.3 1599.4,807.0 1599.5,804.7 1599.5,802.4 1599.5,800.2 1599.5,797.9 1599.5,795.6 1599.5,793.3 1599.6,791.0 1599.6,788.7 1599.6,786.4 1599.6,784.1 1599.6,781.8 1599.6,779.5 1599.7,777.3 1599.7,775.0 1599.7,772.7 1599.7,770.4 1599.7,768.1 1599.7,765.8 1599.8,763.5 1599.8,761.2 1599.8,758.9 1599.8,756.6 1599.8,754.4 1599.8,752.1 1599.9,749.8 1599.9,747.5 1599.9,745.2 1599.9,742.9 1599.9,740.6"/>
<polyline points="1631.5,790.0 1631.5,797.6"/>
<polyline points="1631.5,797.6 1631.5,795.1 1631.5,792.5 1631.5,790.0 1631.6,787.5 1631.6,784.9 1631.6,782.4 1631.6,779.9 1631.6,777.4 1631.6,774.8 1631.6,772.3 1631.6,769.8 1631.7,767.2 1631.7,764.7 1631.7,762.2 1631.7,759.6 1631.7,757.1 1631.7,754.6 1631.7,752.0 1631.8,749.5 1631.8,747.0 1631.8,744.4 1631.8,741.9"/>
<polyline points="1662.2,718.0 1662.2,724.6"/>
<polyline points="1662.2,724.6 1662.2,721.9 1662.2,719.1 1662.2,716.4 1662.2,713.7 1662.2,710.9 1662.3,708.2 1662.3,705.5 1662.3,702.7 1662.3,700.0 1662.3,697.3 1662.3,694.5 1662.3,691.8 1662.3,689.1 1662.3,686.3 1662.3,683.6 1662.4,680.8 1662.4,678.1 1662.4,675.4 1662.4,672.6 1662.4,669.9 1662.4,667.2 1662.4,664.4 1662.4,661.7 1662.4,659.0 1662.4,656.2 1662.4,653.5 1662.5,650.8 1662.5,648.0 1662.5,645.3 1662.5,642.6 1662.5,639.8 1662.5,637.1 1662.5,634.4 1662.5,631.6 1662.5,628.9 1662.5,626.2 1662.5,623.4 1662.5,620.7 1662.6,618.0 1662.6,615.2 1662.6,612.5 1662.6,609.7 1662.6,607.0 1662.6,604.3 1662.6,601.5 1662.6,598.8 1662.6,596.1 1662.6,593.3 1662.6,590.6 1662.6,587.9 1662.6,585.1 1662.6,582.4 1662.6,579.7 1662.7,576.9 1662.7,574.2 1662.7,571.5 1662.7,568.7 1662.7,566.0 1662.7,563.3 1662.7,560.5 1662.7,557.8 1662.7,555.1 1662.7,552.3 1662.7,549.6 1662.7,546.9 1662.7,544.1 1662.7,541.4 1662.7,538.7 1662.7,535.9 1662.7,533.2 1662.7,530.4 1662.7,527.7 1662.7,525.0 1662.7,522.2 1662.7,519.5 1662.7,516.8 1662.7,514.0 1662.7,511.3 1662.7,508.6 1662.8,505.8 1662.8,503.1 1662.8,500.4 1662.8,497.6"/>
<polyline points="1695.5,691.0 1695.5,697.6"/>
<polyline points="1695.5,697.6 1695.5,695.6 1695.5,693.6 1695.5,691.7 1695.5,689.7 1695.5,687.7 1695.5,685.7 1695.5,683.8 1695.5,681.8 1695.6,679.8 1695.6,677.8 1695.6,675.9 1695.6,673.9 1695.6,671.9 1695.6,669.9 1695.6,668.0 1695.6,666.0 1695.6,664.0 1695.6,662.0 1695.6,660.1 1695.6,658.1 1695.6,656.1 1695.6,654.1 1695.6,652.2 1695.6,650.2 1695.6,648.2 1695.6,646.2 1695.7,644.3 1695.7,642.3 1695.7,640.3 1695.7,638.3 1695.7,636.4 1695.7,634.4 1695.7,632.4 1695.7,630.4 1695.7,628.5 1695.7,626.5 1695.7,624.5 1695.7,622.5 1695.7,620.6 1695.7,618.6 1695.7,616.6 1695.8,614.6 1695.8,612.7 1695.8,610.7 1695.8,608.7 1695.8,606.7 1695.8,604.8 1695.8,602.8 1695.8,600.8 1695.8,598.8 1695.8,596.9 1695.8,594.9 1695.8,592.9 1695.8,590.9 1695.8,589.0 1695.8,587.0 1695.8,585.0 1695.9,583.0 1695.9,581.1 1695.9,579.1 1695.9,577.1 1695.9,575.1 1695.9,573.1"/>
<polyline points="1729.2,285.0 1729.4,456.0"/>
<polyline points="1730.3,555.6 1730.5,560.6"/>
</g>
</g>
<path d="M349.6 1032.4h0M350.8 1036.6h0M352.0 1040.7h0M379.0 1013.8h0M379.0 1005.0h0M379.0 996.1h0M379.1 987.3h0M379.1 978.5h0M379.6 973.9h0M379.9 974.2h0M380.2 976.7h0M380.4 980.1h0M380.6 983.5h0M380.7 986.9h0M380.9 990.3h0M381.0 993.7h0M381.2 997.1h0M381.3 1000.5h0M381.5 1003.9h0M381.7 1007.3h0M381.8 1010.7h0M382.0 1013.9h0M382.1 1016.9h0M382.2 1019.7h0M382.4 1022.3h0M382.5 1024.8h0M382.6 1027.1h0M382.7 1029.2h0M382.8 1031.2h0M382.9 1033.2h0M383.0 1035.2h0M410.4 1000.1h0M410.4 989.8h0M410.4 979.4h0M410.5 969.0h0M410.5 958.7h0M410.5 948.3h0M411.0 944.1h0M411.3 944.5h0M411.6 947.4h0M411.8 951.4h0M411.9 955.4h0M412.0 959.4h0M412.2 963.4h0M412.3 967.4h0M412.5 971.4h0M412.6 975.3h0M412.7 979.3h0M412.9 983.3h0M413.0 987.3h0M413.1 991.3h0M413.3 995.3h0M413.4 999.0h0M413.5 1002.5h0M413.7 1005.8h0M413.8 1008.8h0M413.9 1011.7h0M414.0 1014.4h0M414.0 1016.9h0M414.1 1019.2h0M414.2 1021.4h0M414.3 1023.5h0M414.3 1025.5h0M414.4 1027.5h0M414.5 1029.5h0M443.0 987.4h0M443.0 975.5h0M443.0 963.6h0M443.1 951.8h0M443.1 939.9h0M443.1 928.0h0M443.1 916.1h0M443.6 915.5h0M443.9 915.9h0M444.2 919.4h0M444.3 923.9h0M444.5 928.5h0M444.6 933.1h0M444.7 937.6h0M444.8 942.2h0M444.9 946.8h0M445.1 951.4h0M445.2 955.9h0M445.3 960.5h0M445.4 965.1h0M445.5 969.6h0M445.7 974.2h0M445.8 978.8h0M445.9 983.1h0M446.0 987.2h0M446.1 991.0h0M446.2 994.6h0M446.3 998.0h0M446.4 1001.1h0M446.5 1004.1h0M446.5 1006.8h0M446.6 1009.4h0M446.7 1011.8h0M446.7 1014.1h0M446.8 1016.2h0M446.8 1018.2h0M446.9 1020.2h0M446.9 1022.2h0M476.0 974.7h0M476.0 961.3h0M476.0 947.9h0M476.1 934.5h0M476.1 921.1h0M476.1 907.7h0M476.1 894.3h0M476.6 888.5h0M476.9 888.9h0M477.2 892.9h0M477.3 898.0h0M477.4 903.2h0M477.5 908.4h0M477.7 913.5h0M477.8 918.7h0M477.9 923.8h0M478.0 929.0h0M478.1 934.1h0M478.2 939.3h0M478.4 944.5h0M478.5 949.6h0M478.6 954.8h0M478.7 959.9h0M478.8 965.1h0M478.9 969.9h0M479.0 974.4h0M479.1 978.7h0M479.2 982.6h0M479.3 986.4h0M479.4 989.8h0M479.4 993.1h0M479.5 996.2h0M479.6 999.1h0M479.6 1001.8h0M479.7 1004.3h0M479.7 1006.7h0M479.8 1008.9h0M479.8 1011.0h0M479.9 1013.0h0M479.9 1015.0h0M480.0 1017.0h0M509.0 962.0h0M509.0 947.1h0M509.0 932.1h0M509.0 917.2h0M509.1 902.3h0M509.1 887.4h0M509.1 872.4h0M509.6 862.9h0M509.9 863.2h0M510.2 867.8h0M510.3 873.6h0M510.5 879.3h0M510.6 885.0h0M510.7 890.8h0M510.8 896.5h0M510.9 902.3h0M511.1 908.0h0M511.2 913.8h0M511.3 919.5h0M511.4 925.2h0M511.6 931.0h0M511.7 936.7h0M511.8 942.5h0M511.9 948.2h0M512.0 953.8h0M512.2 958.9h0M512.3 963.8h0M512.4 968.3h0M512.5 972.6h0M512.5 976.6h0M512.6 980.4h0M512.7 983.9h0M512.8 987.1h0M512.8 990.2h0M512.9 993.1h0M512.9 995.8h0M513.0 998.3h0M513.1 1000.7h0M513.1 1002.9h0M513.1 1005.0h0M513.2 1007.0h0M513.2 1009.0h0M513.3 1011.0h0M543.0 949.3h0M543.0 932.9h0M543.0 916.4h0M543.0 899.9h0M543.1 883.5h0M543.1 867.0h0M543.1 850.6h0M543.6 839.5h0M543.9 839.9h0M544.2 844.9h0M544.3 851.3h0M544.3 857.6h0M544.4 863.9h0M544.5 870.3h0M544.6 876.6h0M544.7 882.9h0M544.8 889.2h0M544.8 895.6h0M544.9 901.9h0M545.0 908.2h0M545.1 914.6h0M545.2 920.9h0M545.3 927.2h0M545.3 933.5h0M545.4 939.8h0M545.5 945.6h0M545.6 951.0h0M545.6 956.1h0M545.7 960.9h0M545.8 965.3h0M545.8 969.5h0M545.9 973.4h0M545.9 977.1h0M546.0 980.5h0M546.0 983.7h0M546.0 986.7h0M546.1 989.5h0M546.1 992.1h0M546.1 994.6h0M546.2 996.9h0M546.2 999.1h0M546.2 1001.1h0M546.2 1003.1h0M546.3 1005.1h0M546.3 1007.1h0M576.6 936.6h0M576.6 918.6h0M576.6 900.6h0M576.6 882.7h0M576.7 864.7h0M576.7 846.7h0M576.7 828.7h0M577.2 817.5h0M577.5 817.9h0M577.8 823.5h0M577.9 830.4h0M577.9 837.3h0M578.0 844.2h0M578.1 851.1h0M578.2 858.0h0M578.3 865.0h0M578.4 871.9h0M578.5 878.8h0M578.6 885.7h0M578.6 892.6h0M578.7 899.5h0M578.8 906.4h0M578.9 913.4h0M579.0 920.3h0M579.1 927.1h0M579.1 933.5h0M579.2 939.4h0M579.3 945.0h0M579.4 950.2h0M579.4 955.1h0M579.5 959.6h0M579.5 963.9h0M579.6 967.9h0M579.6 971.6h0M579.7 975.1h0M579.7 978.3h0M579.7 981.3h0M579.8 984.2h0M579.8 986.8h0M579.8 989.3h0M579.9 991.6h0M579.9 993.8h0M579.9 995.8h0M579.9 997.8h0M580.0 999.8h0M580.0 1001.8h0M609.6 922.9h0M609.6 903.4h0M609.6 883.9h0M609.6 864.4h0M609.7 844.9h0M609.7 825.4h0M609.7 805.9h0M610.2 796.9h0M610.5 797.2h0M610.8 803.4h0M610.9 810.9h0M611.0 818.4h0M611.1 825.9h0M611.2 833.4h0M611.3 840.9h0M611.4 848.4h0M611.5 855.9h0M611.6 863.4h0M611.7 870.9h0M611.8 878.4h0M611.9 885.9h0M612.0 893.4h0M612.1 900.9h0M612.2 908.4h0M612.3 915.8h0M612.3 922.7h0M612.4 929.1h0M612.5 935.1h0M612.6 940.7h0M612.6 945.9h0M612.7 950.8h0M612.8 955.3h0M612.8 959.5h0M612.9 963.5h0M612.9 967.2h0M613.0 970.7h0M613.0 973.9h0M613.0 976.9h0M613.1 979.7h0M613.1 982.3h0M613.1 984.7h0M613.2 987.0h0M613.2 989.1h0M613.2 991.1h0M613.3 993.1h0M613.3 995.1h0M643.0 912.6h0M643.0 892.4h0M643.0 872.2h0M643.0 851.9h0M643.1 831.7h0M643.1 811.5h0M643.1 791.3h0M643.6 779.9h0M643.9 780.2h0M644.2 786.6h0M644.3 794.4h0M644.3 802.2h0M644.4 810.0h0M644.5 817.7h0M644.6 825.5h0M644.7 833.3h0M644.8 841.1h0M644.9 848.8h0M645.0 856.6h0M645.1 864.4h0M645.1 872.1h0M645.2 879.9h0M645.3 887.7h0M645.4 895.5h0M645.5 903.2h0M645.6 910.5h0M645.7 917.4h0M645.7 923.7h0M645.8 929.7h0M645.9 935.3h0M645.9 940.4h0M646.0 945.3h0M646.0 949.8h0M646.1 954.1h0M646.1 958.0h0M646.2 961.7h0M646.2 965.2h0M646.2 968.4h0M646.3 971.4h0M646.3 974.2h0M646.3 976.9h0M646.4 979.3h0M646.4 981.6h0M646.4 983.8h0M646.4 985.8h0M646.5 987.8h0M646.5 989.8h0M675.8 902.7h0M675.8 881.8h0M675.8 860.9h0M675.8 840.0h0M675.9 819.1h0M675.9 798.2h0M675.9 777.2h0M676.4 763.9h0M676.7 764.2h0M677.0 770.9h0M677.1 778.9h0M677.2 787.0h0M677.3 795.0h0M677.4 803.1h0M677.5 811.1h0M677.6 819.2h0M677.7 827.2h0M677.8 835.3h0M677.9 843.3h0M678.0 851.3h0M678.1 859.4h0M678.2 867.4h0M678.3 875.5h0M678.4 883.5h0M678.5 891.6h0M678.6 899.3h0M678.7 906.5h0M678.8 913.3h0M678.8 919.6h0M678.9 925.5h0M679.0 931.0h0M679.1 936.1h0M679.1 941.0h0M679.2 945.5h0M679.2 949.7h0M679.3 953.6h0M679.3 957.3h0M679.4 960.8h0M679.4 964.0h0M679.4 967.0h0M679.5 969.8h0M679.5 972.4h0M679.5 974.9h0M679.6 977.2h0M679.6 979.4h0M679.6 981.4h0M679.7 983.4h0M679.7 985.4h0M708.8 894.5h0M708.8 872.9h0M708.8 851.3h0M708.8 829.6h0M708.9 808.0h0M708.9 786.4h0M708.9 764.8h0M709.4 749.1h0M709.7 749.5h0M709.9 756.3h0M710.0 764.7h0M710.1 773.0h0M710.2 781.3h0M710.3 789.6h0M710.4 797.9h0M710.5 806.2h0M710.6 814.6h0M710.7 822.9h0M710.8 831.2h0M710.9 839.5h0M711.0 847.8h0M711.1 856.2h0M711.2 864.5h0M711.3 872.8h0M711.4 881.1h0M711.4 889.2h0M711.5 896.7h0M711.6 903.8h0M711.7 910.4h0M711.8 916.5h0M711.8 922.3h0M711.9 927.7h0M711.9 932.7h0M712.0 937.4h0M712.0 941.8h0M712.1 946.0h0M712.1 949.8h0M712.2 953.4h0M712.2 956.8h0M712.2 959.9h0M712.3 962.9h0M712.3 965.6h0M712.3 968.2h0M712.4 970.6h0M712.4 972.9h0M712.4 975.0h0M712.4 977.0h0M712.5 979.0h0M712.5 981.0h0M741.4 885.2h0M741.4 862.9h0M741.4 840.5h0M741.4 818.2h0M741.5 795.8h0M741.5 773.5h0M741.5 751.2h0M742.0 736.1h0M742.3 736.5h0M742.5 743.6h0M742.7 752.2h0M742.8 760.8h0M742.9 769.4h0M743.0 777.9h0M743.1 786.5h0M743.2 795.1h0M743.3 803.7h0M743.4 812.3h0M743.5 820.9h0M743.6 829.5h0M743.7 838.1h0M743.8 846.7h0M744.0 855.3h0M744.1 863.9h0M744.2 872.4h0M744.3 880.8h0M744.4 888.7h0M744.5 896.0h0M744.6 902.8h0M744.6 909.2h0M744.7 915.2h0M744.8 920.8h0M744.8 926.0h0M744.9 930.9h0M745.0 935.5h0M745.0 939.8h0M745.1 943.8h0M745.1 947.5h0M745.2 951.0h0M745.2 954.3h0M745.2 957.3h0M745.3 960.2h0M745.3 962.9h0M745.3 965.4h0M745.4 967.7h0M745.4 969.9h0M745.4 971.9h0M745.4 973.9h0M745.5 975.9h0M745.5 977.9h0M774.2 875.9h0M774.2 852.8h0M774.2 829.8h0M774.2 806.7h0M774.3 783.7h0M774.3 760.6h0M774.3 737.6h0M774.8 723.5h0M775.1 723.9h0M775.3 731.2h0M775.4 740.1h0M775.5 749.0h0M775.6 757.8h0M775.7 766.7h0M775.8 775.5h0M775.9 784.4h0M776.0 793.3h0M776.0 802.1h0M776.1 811.0h0M776.2 819.9h0M776.3 828.7h0M776.4 837.6h0M776.5 846.5h0M776.6 855.3h0M776.7 864.2h0M776.8 872.9h0M776.8 881.0h0M776.9 888.5h0M777.0 895.6h0M777.1 902.3h0M777.1 908.4h0M777.2 914.2h0M777.2 919.6h0M777.3 924.7h0M777.3 929.4h0M777.4 933.8h0M777.4 938.0h0M777.5 941.8h0M777.5 945.5h0M777.5 948.8h0M777.6 952.0h0M777.6 954.9h0M777.6 957.7h0M777.7 960.3h0M777.7 962.7h0M777.7 964.9h0M777.7 967.0h0M777.7 969.0h0M777.8 971.0h0M777.8 973.0h0M806.8 866.3h0M806.8 842.6h0M806.8 818.8h0M806.8 795.1h0M806.9 771.3h0M806.9 747.6h0M806.9 723.8h0M807.4 711.5h0M807.7 711.9h0M807.9 719.5h0M808.0 728.6h0M808.1 737.7h0M808.2 746.9h0M808.3 756.0h0M808.4 765.2h0M808.5 774.3h0M808.6 783.4h0M808.7 792.6h0M808.8 801.7h0M808.9 810.8h0M808.9 820.0h0M809.0 829.1h0M809.1 838.2h0M809.2 847.4h0M809.3 856.5h0M809.4 865.5h0M809.5 873.8h0M809.6 881.6h0M809.7 888.9h0M809.7 895.8h0M809.8 902.2h0M809.9 908.1h0M809.9 913.7h0M810.0 918.9h0M810.0 923.7h0M810.1 928.3h0M810.1 932.5h0M810.2 936.5h0M810.2 940.2h0M810.2 943.7h0M810.3 946.9h0M810.3 949.9h0M810.3 952.8h0M810.3 955.4h0M810.4 957.9h0M810.4 960.2h0M810.4 962.3h0M810.4 964.4h0M810.5 966.4h0M810.5 968.4h0M839.4 857.0h0M839.4 832.5h0M839.4 808.1h0M839.5 783.6h0M839.5 759.2h0M839.5 734.7h0M839.5 710.2h0M840.0 699.9h0M840.3 700.2h0M840.5 708.1h0M840.6 717.5h0M840.7 726.9h0M840.7 736.3h0M840.8 745.8h0M840.9 755.2h0M841.0 764.6h0M841.1 774.0h0M841.2 783.4h0M841.2 792.8h0M841.3 802.2h0M841.4 811.6h0M841.5 821.0h0M841.6 830.4h0M841.7 839.8h0M841.8 849.3h0M841.8 858.5h0M841.9 867.0h0M842.0 875.1h0M842.1 882.6h0M842.1 889.6h0M842.2 896.1h0M842.2 902.2h0M842.3 907.9h0M842.3 913.2h0M842.4 918.2h0M842.4 922.9h0M842.5 927.2h0M842.5 931.3h0M842.5 935.1h0M842.6 938.6h0M842.6 941.9h0M842.6 945.0h0M842.6 947.9h0M842.7 950.5h0M842.7 953.1h0M842.7 955.4h0M842.7 957.6h0M842.7 959.6h0M842.8 961.6h0M842.8 963.6h0M842.8 965.6h0M871.6 846.9h0M871.6 821.7h0M871.6 796.5h0M871.7 771.4h0M871.7 746.2h0M871.7 721.0h0M871.7 695.8h0M872.2 688.5h0M872.5 688.9h0M872.7 697.0h0M872.8 706.6h0M872.9 716.3h0M873.0 726.0h0M873.1 735.7h0M873.2 745.4h0M873.3 755.1h0M873.4 764.7h0M873.5 774.4h0M873.5 784.1h0M873.6 793.8h0M873.7 803.5h0M873.8 813.1h0M873.9 822.8h0M874.0 832.5h0M874.1 842.2h0M874.2 851.6h0M874.3 860.5h0M874.4 868.7h0M874.5 876.4h0M874.5 883.6h0M874.6 890.3h0M874.7 896.5h0M874.7 902.4h0M874.8 907.8h0M874.8 912.9h0M874.9 917.7h0M874.9 922.1h0M874.9 926.3h0M875.0 930.1h0M875.0 933.7h0M875.1 937.1h0M875.1 940.3h0M875.1 943.2h0M875.1 945.9h0M875.2 948.5h0M875.2 950.9h0M875.2 953.1h0M875.2 955.2h0M875.3 957.2h0M875.3 959.2h0M875.3 961.2h0M904.0 837.4h0M904.0 811.5h0M904.0 785.6h0M904.1 759.7h0M904.1 733.8h0M904.1 707.9h0M904.1 682.1h0M904.5 678.5h0M904.8 678.9h0M905.1 687.2h0M905.2 697.2h0M905.2 707.1h0M905.3 717.1h0M905.4 727.0h0M905.5 737.0h0M905.6 746.9h0M905.7 756.9h0M905.8 766.8h0M905.9 776.8h0M906.0 786.8h0M906.1 796.7h0M906.1 806.7h0M906.2 816.6h0M906.3 826.6h0M906.4 836.5h0M906.5 846.2h0M906.6 855.1h0M906.7 863.5h0M906.7 871.3h0M906.8 878.6h0M906.9 885.4h0M906.9 891.7h0M907.0 897.6h0M907.0 903.2h0M907.1 908.3h0M907.1 913.1h0M907.1 917.6h0M907.2 921.7h0M907.2 925.6h0M907.2 929.2h0M907.3 932.6h0M907.3 935.8h0M907.3 938.7h0M907.4 941.5h0M907.4 944.0h0M907.4 946.4h0M907.4 948.6h0M907.4 950.7h0M907.5 952.7h0M907.5 954.7h0M907.5 956.7h0M936.2 827.0h0M936.2 800.4h0M936.2 773.8h0M936.3 747.3h0M936.3 720.7h0M936.3 694.1h0M936.7 668.5h0M937.0 668.9h0M937.2 677.5h0M937.3 687.7h0M937.4 697.9h0M937.5 708.1h0M937.6 718.4h0M937.7 728.6h0M937.7 738.8h0M937.8 749.0h0M937.9 759.3h0M938.0 769.5h0M938.1 779.7h0M938.2 790.0h0M938.2 800.2h0M938.3 810.4h0M938.4 820.6h0M938.5 830.9h0M938.6 840.7h0M938.7 849.9h0M938.7 858.5h0M938.8 866.5h0M938.8 873.9h0M938.9 880.9h0M939.0 887.4h0M939.0 893.4h0M939.1 899.0h0M939.1 904.3h0M939.1 909.1h0M939.2 913.7h0M939.2 917.9h0M939.2 921.9h0M939.3 925.6h0M939.3 929.0h0M939.3 932.2h0M939.3 935.2h0M939.4 938.0h0M939.4 940.6h0M939.4 943.0h0M939.4 945.3h0M939.4 947.4h0M939.5 949.4h0M939.5 951.4h0M939.5 953.4h0M968.4 816.9h0M968.4 789.6h0M968.4 762.3h0M968.5 735.0h0M968.5 707.7h0M968.5 680.4h0M968.9 658.5h0M969.2 658.9h0M969.4 667.7h0M969.5 678.2h0M969.6 688.7h0M969.7 699.2h0M969.7 709.7h0M969.8 720.2h0M969.9 730.7h0M970.0 741.2h0M970.0 751.7h0M970.1 762.2h0M970.2 772.7h0M970.3 783.2h0M970.4 793.7h0M970.4 804.2h0M970.5 814.7h0M970.6 825.2h0M970.7 835.2h0M970.7 844.6h0M970.8 853.3h0M970.9 861.3h0M970.9 868.9h0M971.0 875.9h0M971.0 882.4h0M971.1 888.5h0M971.1 894.2h0M971.1 899.5h0M971.2 904.4h0M971.2 909.0h0M971.2 913.2h0M971.3 917.2h0M971.3 920.9h0M971.3 924.4h0M971.3 927.6h0M971.4 930.6h0M971.4 933.3h0M971.4 935.9h0M971.4 938.3h0M971.4 940.6h0M971.5 942.7h0M971.5 944.7h0M971.5 946.7h0M971.5 948.7h0M1000.2 806.8h0M1000.2 779.2h0M1000.2 751.6h0M1000.3 724.0h0M1000.3 696.4h0M1000.3 668.8h0M1000.7 650.1h0M1001.0 650.5h0M1001.2 659.4h0M1001.3 670.0h0M1001.4 680.6h0M1001.5 691.2h0M1001.6 701.9h0M1001.6 712.5h0M1001.7 723.1h0M1001.8 733.7h0M1001.9 744.3h0M1002.0 754.9h0M1002.1 765.6h0M1002.2 776.2h0M1002.2 786.8h0M1002.3 797.4h0M1002.4 808.0h0M1002.5 818.6h0M1002.6 828.9h0M1002.6 838.4h0M1002.7 847.2h0M1002.8 855.5h0M1002.8 863.2h0M1002.9 870.4h0M1003.0 877.1h0M1003.0 883.3h0M1003.0 889.1h0M1003.1 894.5h0M1003.1 899.5h0M1003.2 904.2h0M1003.2 908.6h0M1003.2 912.7h0M1003.3 916.5h0M1003.3 920.0h0M1003.3 923.3h0M1003.3 926.3h0M1003.4 929.2h0M1003.4 931.9h0M1003.4 934.3h0M1003.4 936.7h0M1003.4 938.8h0M1003.5 940.8h0M1003.5 942.8h0M1003.5 944.8h0M1032.2 797.5h0M1032.2 769.6h0M1032.2 741.7h0M1032.3 713.8h0M1032.3 685.9h0M1032.3 658.0h0M1032.7 642.5h0M1033.0 642.9h0M1033.2 651.9h0M1033.3 662.6h0M1033.4 673.4h0M1033.4 684.1h0M1033.5 694.8h0M1033.6 705.6h0M1033.7 716.3h0M1033.7 727.0h0M1033.8 737.8h0M1033.9 748.5h0M1034.0 759.2h0M1034.1 769.9h0M1034.1 780.7h0M1034.2 791.4h0M1034.3 802.1h0M1034.4 812.9h0M1034.4 823.2h0M1034.5 832.9h0M1034.6 841.8h0M1034.6 850.2h0M1034.7 858.0h0M1034.7 865.2h0M1034.8 872.0h0M1034.8 878.3h0M1034.9 884.2h0M1034.9 889.6h0M1035.0 894.7h0M1035.0 899.5h0M1035.0 903.9h0M1035.1 908.0h0M1035.1 911.9h0M1035.1 915.4h0M1035.1 918.8h0M1035.2 921.9h0M1035.2 924.8h0M1035.2 927.5h0M1035.2 930.0h0M1035.2 932.3h0M1035.2 934.5h0M1035.3 936.5h0M1035.3 938.5h0M1035.3 940.5h0M1064.2 787.9h0M1064.2 759.7h0M1064.2 731.5h0M1064.3 703.3h0M1064.3 675.1h0M1064.3 646.9h0M1064.7 636.5h0M1065.0 636.9h0M1065.2 646.0h0M1065.3 656.9h0M1065.4 667.7h0M1065.4 678.5h0M1065.5 689.4h0M1065.6 700.2h0M1065.7 711.1h0M1065.7 721.9h0M1065.8 732.8h0M1065.9 743.6h0M1066.0 754.5h0M1066.1 765.3h0M1066.1 776.2h0M1066.2 787.0h0M1066.3 797.9h0M1066.4 808.7h0M1066.4 819.1h0M1066.5 828.7h0M1066.6 837.7h0M1066.6 846.1h0M1066.7 853.9h0M1066.8 861.1h0M1066.8 867.9h0M1066.8 874.2h0M1066.9 880.0h0M1066.9 885.4h0M1067.0 890.5h0M1067.0 895.2h0M1067.0 899.6h0M1067.1 903.7h0M1067.1 907.5h0M1067.1 911.1h0M1067.1 914.4h0M1067.2 917.5h0M1067.2 920.3h0M1067.2 923.0h0M1067.2 925.5h0M1067.2 927.8h0M1067.2 929.9h0M1067.3 931.9h0M1067.3 933.9h0M1067.3 935.9h0M1095.6 778.1h0M1095.6 749.6h0M1095.6 721.1h0M1095.7 692.6h0M1095.7 664.1h0M1095.7 635.6h0M1096.1 630.5h0M1096.4 630.9h0M1096.6 640.1h0M1096.6 651.1h0M1096.7 662.0h0M1096.8 673.0h0M1096.9 684.0h0M1096.9 694.9h0M1097.0 705.9h0M1097.1 716.8h0M1097.2 727.8h0M1097.2 738.8h0M1097.3 749.7h0M1097.4 760.7h0M1097.4 771.7h0M1097.5 782.6h0M1097.6 793.6h0M1097.7 804.5h0M1097.7 814.9h0M1097.8 824.6h0M1097.9 833.6h0M1097.9 842.0h0M1098.0 849.7h0M1098.0 857.0h0M1098.0 863.7h0M1098.1 870.0h0M1098.1 875.8h0M1098.2 881.2h0M1098.2 886.3h0M1098.2 891.0h0M1098.3 895.4h0M1098.3 899.4h0M1098.3 903.2h0M1098.3 906.7h0M1098.4 910.0h0M1098.4 913.0h0M1098.4 915.9h0M1098.4 918.5h0M1098.4 921.0h0M1098.4 923.3h0M1098.5 925.4h0M1098.5 927.4h0M1098.5 929.4h0M1098.5 931.4h0M1127.2 768.0h0M1127.2 739.2h0M1127.2 710.4h0M1127.3 681.6h0M1127.3 652.8h0M1127.7 626.5h0M1128.0 626.9h0M1128.2 636.2h0M1128.3 647.3h0M1128.4 658.4h0M1128.4 669.5h0M1128.5 680.5h0M1128.6 691.6h0M1128.7 702.7h0M1128.8 713.8h0M1128.9 724.8h0M1129.0 735.9h0M1129.1 747.0h0M1129.1 758.1h0M1129.2 769.1h0M1129.3 780.2h0M1129.4 791.3h0M1129.5 802.4h0M1129.6 812.7h0M1129.7 822.4h0M1129.7 831.3h0M1129.8 839.6h0M1129.9 847.3h0M1129.9 854.5h0M1130.0 861.2h0M1130.0 867.4h0M1130.1 873.2h0M1130.1 878.5h0M1130.1 883.5h0M1130.2 888.2h0M1130.2 892.5h0M1130.2 896.5h0M1130.3 900.2h0M1130.3 903.6h0M1130.3 906.8h0M1130.4 909.8h0M1130.4 912.6h0M1130.4 915.2h0M1130.4 917.6h0M1130.4 919.8h0M1130.5 921.9h0M1130.5 923.9h0M1130.5 925.9h0M1130.5 927.9h0M1158.6 757.9h0M1158.6 728.8h0M1158.6 699.7h0M1158.7 670.6h0M1158.7 641.5h0M1159.1 622.5h0M1159.4 622.9h0M1159.5 632.3h0M1159.6 643.5h0M1159.6 654.7h0M1159.7 665.9h0M1159.8 677.1h0M1159.9 688.3h0M1160.0 699.5h0M1160.0 710.7h0M1160.1 721.9h0M1160.2 733.1h0M1160.3 744.2h0M1160.3 755.4h0M1160.4 766.6h0M1160.5 777.8h0M1160.6 789.0h0M1160.6 800.1h0M1160.7 810.4h0M1160.8 820.0h0M1160.8 828.9h0M1160.9 837.1h0M1161.0 844.8h0M1161.0 851.9h0M1161.1 858.5h0M1161.1 864.6h0M1161.1 870.3h0M1161.2 875.6h0M1161.2 880.5h0M1161.2 885.1h0M1161.3 889.3h0M1161.3 893.2h0M1161.3 896.9h0M1161.3 900.3h0M1161.4 903.4h0M1161.4 906.3h0M1161.4 909.0h0M1161.4 911.5h0M1161.4 913.9h0M1161.5 916.0h0M1161.5 918.1h0M1161.5 920.1h0M1161.5 922.1h0M1190.2 747.7h0M1190.2 718.3h0M1190.3 688.9h0M1190.3 659.5h0M1190.3 630.1h0M1190.6 618.5h0M1190.9 618.9h0M1191.0 628.4h0M1191.1 639.7h0M1191.1 651.0h0M1191.2 662.4h0M1191.3 673.7h0M1191.3 685.0h0M1191.4 696.3h0M1191.5 707.6h0M1191.6 718.9h0M1191.6 730.2h0M1191.7 741.5h0M1191.8 752.8h0M1191.8 764.1h0M1191.9 775.4h0M1192.0 786.7h0M1192.0 797.8h0M1192.1 808.1h0M1192.2 817.6h0M1192.2 826.5h0M1192.3 834.7h0M1192.3 842.3h0M1192.4 849.3h0M1192.4 855.9h0M1192.4 861.9h0M1192.5 867.6h0M1192.5 872.8h0M1192.5 877.6h0M1192.6 882.1h0M1192.6 886.3h0M1192.6 890.2h0M1192.6 893.7h0M1192.7 897.1h0M1192.7 900.1h0M1192.7 903.0h0M1192.7 905.7h0M1192.7 908.1h0M1192.7 910.4h0M1192.8 912.5h0M1192.8 914.5h0M1192.8 916.5h0M1192.8 918.5h0M1221.6 736.2h0M1221.6 706.5h0M1221.7 676.8h0M1221.7 647.1h0M1221.7 617.4h0M1222.0 612.5h0M1222.3 612.9h0M1222.3 622.5h0M1222.4 634.0h0M1222.5 645.4h0M1222.6 656.8h0M1222.7 668.2h0M1222.8 679.6h0M1222.8 691.1h0M1222.9 702.5h0M1223.0 713.9h0M1223.1 725.3h0M1223.2 736.8h0M1223.3 748.2h0M1223.4 759.6h0M1223.4 771.0h0M1223.5 782.5h0M1223.6 793.5h0M1223.7 803.8h0M1223.8 813.3h0M1223.8 822.1h0M1223.9 830.3h0M1223.9 837.9h0M1224.0 844.9h0M1224.0 851.4h0M1224.1 857.4h0M1224.1 863.0h0M1224.2 868.2h0M1224.2 873.0h0M1224.2 877.4h0M1224.3 881.6h0M1224.3 885.4h0M1224.3 888.9h0M1224.3 892.2h0M1224.4 895.2h0M1224.4 898.1h0M1224.4 900.7h0M1224.4 903.1h0M1224.4 905.3h0M1224.5 907.4h0M1224.5 909.4h0M1224.5 911.4h0M1252.8 724.7h0M1252.8 694.7h0M1252.9 664.7h0M1252.9 634.7h0M1253.1 609.1h0M1253.4 609.5h0M1253.4 619.2h0M1253.5 630.8h0M1253.6 642.3h0M1253.7 653.9h0M1253.8 665.4h0M1253.9 676.9h0M1253.9 688.5h0M1254.0 700.0h0M1254.1 711.5h0M1254.2 723.1h0M1254.3 734.6h0M1254.3 746.2h0M1254.4 757.7h0M1254.5 769.2h0M1254.6 780.8h0M1254.7 791.8h0M1254.7 801.9h0M1254.8 811.4h0M1254.9 820.1h0M1254.9 828.1h0M1255.0 835.6h0M1255.0 842.5h0M1255.1 848.9h0M1255.1 854.8h0M1255.2 860.3h0M1255.2 865.4h0M1255.2 870.1h0M1255.3 874.4h0M1255.3 878.4h0M1255.3 882.1h0M1255.3 885.6h0M1255.4 888.8h0M1255.4 891.7h0M1255.4 894.5h0M1255.4 897.0h0M1255.4 899.3h0M1255.5 901.5h0M1255.5 903.5h0M1255.5 905.5h0M1255.5 907.5h0M1284.0 711.9h0M1284.0 681.6h0M1284.1 651.3h0M1284.1 621.0h0M1284.3 604.1h0M1284.6 604.5h0M1284.6 614.3h0M1284.6 626.0h0M1284.7 637.6h0M1284.8 649.3h0M1284.9 661.0h0M1284.9 672.6h0M1285.0 684.3h0M1285.1 695.9h0M1285.2 707.6h0M1285.3 719.2h0M1285.3 730.9h0M1285.4 742.5h0M1285.5 754.2h0M1285.6 765.8h0M1285.7 777.5h0M1285.7 788.5h0M1285.8 798.6h0M1285.9 808.0h0M1285.9 816.6h0M1286.0 824.6h0M1286.0 832.0h0M1286.1 838.9h0M1286.1 845.2h0M1286.2 851.1h0M1286.2 856.5h0M1286.2 861.5h0M1286.3 866.1h0M1286.3 870.4h0M1286.3 874.3h0M1286.3 878.0h0M1286.4 881.4h0M1286.4 884.5h0M1286.4 887.4h0M1286.4 890.1h0M1286.4 892.5h0M1286.4 894.8h0M1286.5 896.9h0M1286.5 898.9h0M1286.5 900.9h0M1315.4 701.0h0M1315.4 670.4h0M1315.5 639.8h0M1315.5 609.2h0M1315.7 598.5h0M1316.0 598.9h0M1315.9 608.8h0M1315.9 620.6h0M1316.0 632.4h0M1316.1 644.1h0M1316.1 655.9h0M1316.2 667.7h0M1316.3 679.5h0M1316.3 691.2h0M1316.4 703.0h0M1316.5 714.8h0M1316.5 726.5h0M1316.6 738.3h0M1316.7 750.1h0M1316.7 761.8h0M1316.8 773.6h0M1316.9 784.5h0M1316.9 794.6h0M1317.0 803.8h0M1317.0 812.4h0M1317.1 820.3h0M1317.1 827.6h0M1317.1 834.4h0M1317.2 840.6h0M1317.2 846.4h0M1317.2 851.7h0M1317.3 856.6h0M1317.3 861.1h0M1317.3 865.3h0M1317.3 869.2h0M1317.4 872.8h0M1317.4 876.1h0M1317.4 879.1h0M1317.4 881.9h0M1317.4 884.5h0M1317.4 886.9h0M1317.5 889.1h0M1317.5 891.2h0M1317.5 893.2h0M1317.5 895.2h0M1346.8 687.1h0M1346.8 656.2h0M1346.9 625.3h0M1346.9 594.4h0M1347.0 592.9h0M1347.3 593.2h0M1347.3 603.3h0M1347.4 615.2h0M1347.4 627.1h0M1347.5 639.0h0M1347.6 650.9h0M1347.7 662.8h0M1347.8 674.7h0M1347.8 686.5h0M1347.9 698.4h0M1348.0 710.3h0M1348.1 722.2h0M1348.2 734.1h0M1348.2 746.0h0M1348.3 757.8h0M1348.4 769.6h0M1348.5 780.5h0M1348.5 790.5h0M1348.6 799.7h0M1348.6 808.2h0M1348.7 816.1h0M1348.8 823.3h0M1348.8 830.0h0M1348.8 836.2h0M1348.9 841.9h0M1348.9 847.1h0M1348.9 852.0h0M1349.0 856.4h0M1349.0 860.5h0M1349.0 864.3h0M1349.0 867.9h0M1349.1 871.1h0M1349.1 874.1h0M1349.1 876.8h0M1349.1 879.4h0M1349.1 881.7h0M1349.2 883.9h0M1349.2 885.9h0M1349.2 887.9h0M1349.2 889.9h0M1377.8 672.5h0M1377.8 641.3h0M1377.9 610.1h0M1378.0 585.5h0M1378.3 585.9h0M1378.3 596.0h0M1378.4 608.0h0M1378.4 620.0h0M1378.5 632.0h0M1378.6 644.0h0M1378.7 656.0h0M1378.8 668.0h0M1378.9 680.0h0M1379.0 692.0h0M1379.0 704.0h0M1379.1 716.0h0M1379.2 728.0h0M1379.3 740.0h0M1379.4 752.1h0M1379.5 763.8h0M1379.5 774.7h0M1379.6 784.7h0M1379.7 793.9h0M1379.7 802.4h0M1379.8 810.2h0M1379.8 817.4h0M1379.9 824.1h0M1379.9 830.2h0M1380.0 835.9h0M1380.0 841.1h0M1380.0 845.9h0M1380.1 850.3h0M1380.1 854.4h0M1380.1 858.1h0M1380.1 861.6h0M1380.2 864.8h0M1380.2 867.7h0M1380.2 870.4h0M1380.2 872.9h0M1380.2 875.2h0M1380.3 877.4h0M1380.3 879.4h0M1380.3 881.4h0M1409.4 674.9h0M1409.5 679.1h0M1409.5 683.3h0M1409.6 687.5h0M1409.6 691.7h0M1409.6 695.9h0M1409.7 700.1h0M1409.7 704.3h0M1409.8 708.5h0M1409.8 712.7h0M1409.9 716.9h0M1409.9 721.1h0M1409.9 725.3h0M1410.0 729.5h0M1410.0 733.7h0M1410.1 737.9h0M1410.1 742.1h0M1410.2 746.3h0M1410.2 750.5h0M1410.2 754.7h0M1410.3 758.9h0M1410.3 763.1h0M1410.4 767.3h0M1410.4 771.5h0M1410.5 775.7h0M1410.5 779.9h0M1410.6 783.9h0M1410.6 787.9h0M1410.6 791.7h0M1410.7 795.5h0M1410.7 799.2h0M1410.7 802.7h0M1410.8 806.2h0M1410.8 809.6h0M1410.9 813.0h0M1410.9 816.2h0M1410.9 819.4h0M1411.0 822.4h0M1411.0 825.4h0M1411.0 828.4h0M1411.0 831.2h0M1411.1 834.0h0M1411.1 836.7h0M1411.1 839.4h0M1411.2 842.0h0M1411.2 844.5h0M1411.2 846.9h0M1411.2 849.3h0M1411.3 851.7h0M1411.3 854.0h0M1411.3 856.2h0M1411.3 858.4h0M1411.3 860.5h0M1411.4 862.5h0M1411.4 864.6h0M1411.4 866.6h0M1411.4 868.6h0M1411.5 870.6h0M1411.5 872.6h0M1411.5 874.6h0M1440.0 659.9h0M1440.1 664.1h0M1440.1 668.3h0M1440.2 672.5h0M1440.2 676.7h0M1440.3 680.9h0M1440.3 685.1h0M1440.4 689.3h0M1440.4 693.5h0M1440.5 697.7h0M1440.5 701.9h0M1440.6 706.1h0M1440.6 710.3h0M1440.7 714.5h0M1440.7 718.7h0M1440.8 722.9h0M1440.8 727.1h0M1440.9 731.3h0M1440.9 735.5h0M1441.0 739.7h0M1441.0 743.9h0M1441.1 748.1h0M1441.1 752.3h0M1441.2 756.5h0M1441.2 760.7h0M1441.3 764.9h0M1441.3 769.0h0M1441.4 773.1h0M1441.4 777.0h0M1441.5 780.9h0M1441.5 784.6h0M1441.6 788.3h0M1441.6 791.9h0M1441.6 795.4h0M1441.7 798.8h0M1441.7 802.1h0M1441.8 805.4h0M1441.8 808.5h0M1441.8 811.6h0M1441.9 814.7h0M1441.9 817.6h0M1441.9 820.5h0M1442.0 823.3h0M1442.0 826.0h0M1442.0 828.7h0M1442.1 831.3h0M1442.1 833.9h0M1442.1 836.4h0M1442.2 838.8h0M1442.2 841.2h0M1442.2 843.5h0M1442.2 845.8h0M1442.3 848.0h0M1442.3 850.1h0M1442.3 852.2h0M1442.3 854.3h0M1442.4 856.3h0M1442.4 858.3h0M1442.4 860.3h0M1442.4 862.3h0M1442.5 864.3h0M1442.5 866.3h0M1471.2 644.9h0M1471.3 649.1h0M1471.3 653.3h0M1471.4 657.5h0M1471.4 661.7h0M1471.4 665.9h0M1471.5 670.1h0M1471.5 674.3h0M1471.6 678.5h0M1471.6 682.7h0M1471.7 686.9h0M1471.7 691.1h0M1471.8 695.3h0M1471.8 699.5h0M1471.9 703.7h0M1471.9 707.9h0M1471.9 712.1h0M1472.0 716.3h0M1472.0 720.5h0M1472.1 724.7h0M1472.1 728.9h0M1472.2 733.1h0M1472.2 737.3h0M1472.3 741.5h0M1472.3 745.7h0M1472.3 749.9h0M1472.4 754.1h0M1472.4 758.2h0M1472.5 762.2h0M1472.5 766.2h0M1472.6 770.0h0M1472.6 773.7h0M1472.6 777.4h0M1472.7 781.0h0M1472.7 784.5h0M1472.8 787.9h0M1472.8 791.2h0M1472.8 794.4h0M1472.9 797.6h0M1472.9 800.7h0M1472.9 803.7h0M1473.0 806.7h0M1473.0 809.6h0M1473.0 812.4h0M1473.0 815.2h0M1473.1 817.9h0M1473.1 820.5h0M1473.1 823.1h0M1473.2 825.6h0M1473.2 828.0h0M1473.2 830.4h0M1473.2 832.8h0M1473.3 835.1h0M1473.3 837.3h0M1473.3 839.5h0M1473.3 841.6h0M1473.3 843.7h0M1473.4 845.7h0M1473.4 847.7h0M1473.4 849.7h0M1473.4 851.7h0M1473.5 853.7h0M1473.5 855.7h0M1473.5 857.7h0M1503.0 629.9h0M1503.1 634.1h0M1503.1 638.3h0M1503.2 642.5h0M1503.2 646.7h0M1503.3 650.9h0M1503.3 655.1h0M1503.4 659.3h0M1503.4 663.5h0M1503.5 667.7h0M1503.5 671.9h0M1503.5 676.1h0M1503.6 680.3h0M1503.6 684.5h0M1503.7 688.7h0M1503.7 692.9h0M1503.8 697.1h0M1503.8 701.3h0M1503.9 705.5h0M1503.9 709.7h0M1504.0 713.9h0M1504.0 718.1h0M1504.1 722.3h0M1504.1 726.5h0M1504.2 730.7h0M1504.2 734.9h0M1504.3 739.1h0M1504.3 743.3h0M1504.4 747.4h0M1504.4 751.3h0M1504.4 755.2h0M1504.5 759.0h0M1504.5 762.8h0M1504.6 766.4h0M1504.6 769.9h0M1504.7 773.4h0M1504.7 776.8h0M1504.7 780.1h0M1504.8 783.4h0M1504.8 786.5h0M1504.8 789.6h0M1504.9 792.7h0M1504.9 795.6h0M1504.9 798.5h0M1505.0 801.3h0M1505.0 804.1h0M1505.0 806.8h0M1505.1 809.4h0M1505.1 812.0h0M1505.1 814.5h0M1505.1 817.0h0M1505.2 819.4h0M1505.2 821.7h0M1505.2 824.0h0M1505.3 826.2h0M1505.3 828.4h0M1505.3 830.6h0M1505.3 832.7h0M1505.4 834.7h0M1505.4 836.7h0M1505.4 838.7h0M1505.4 840.7h0M1505.4 842.7h0M1505.5 844.7h0M1505.5 846.7h0M1534.4 612.9h0M1534.5 617.1h0M1534.5 621.3h0M1534.5 625.5h0M1534.6 629.7h0M1534.6 633.9h0M1534.7 638.1h0M1534.7 642.3h0M1534.7 646.5h0M1534.8 650.7h0M1534.8 654.9h0M1534.8 659.1h0M1534.9 663.3h0M1534.9 667.5h0M1535.0 671.7h0M1535.0 675.9h0M1535.0 680.1h0M1535.1 684.3h0M1535.1 688.5h0M1535.2 692.7h0M1535.2 696.9h0M1535.2 701.1h0M1535.3 705.3h0M1535.3 709.5h0M1535.4 713.7h0M1535.4 717.9h0M1535.4 722.1h0M1535.5 726.3h0M1535.5 730.4h0M1535.5 734.5h0M1535.6 738.5h0M1535.6 742.3h0M1535.7 746.1h0M1535.7 749.8h0M1535.7 753.5h0M1535.8 757.0h0M1535.8 760.5h0M1535.8 763.9h0M1535.9 767.2h0M1535.9 770.4h0M1535.9 773.6h0M1535.9 776.7h0M1536.0 779.7h0M1536.0 782.7h0M1536.0 785.6h0M1536.0 788.4h0M1536.1 791.2h0M1536.1 793.9h0M1536.1 796.6h0M1536.1 799.2h0M1536.2 801.7h0M1536.2 804.2h0M1536.2 806.6h0M1536.2 809.0h0M1536.3 811.3h0M1536.3 813.6h0M1536.3 815.8h0M1536.3 817.9h0M1536.3 820.1h0M1536.4 822.1h0M1536.4 824.2h0M1536.4 826.2h0M1536.4 828.2h0M1536.4 830.2h0M1536.5 832.2h0M1536.5 834.2h0M1536.5 836.2h0M1566.0 594.9h0M1566.1 599.1h0M1566.1 603.3h0M1566.2 607.5h0M1566.2 611.7h0M1566.2 615.9h0M1566.3 620.1h0M1566.3 624.3h0M1566.4 628.5h0M1566.4 632.7h0M1566.5 636.9h0M1566.5 641.1h0M1566.6 645.3h0M1566.6 649.5h0M1566.7 653.7h0M1566.7 657.9h0M1566.7 662.1h0M1566.8 666.3h0M1566.8 670.5h0M1566.9 674.7h0M1566.9 678.9h0M1567.0 683.1h0M1567.0 687.3h0M1567.1 691.5h0M1567.1 695.7h0M1567.2 699.9h0M1567.2 704.1h0M1567.2 708.3h0M1567.3 712.5h0M1567.3 716.6h0M1567.4 720.6h0M1567.4 724.6h0M1567.5 728.5h0M1567.5 732.2h0M1567.5 735.9h0M1567.6 739.5h0M1567.6 743.1h0M1567.7 746.5h0M1567.7 749.9h0M1567.7 753.2h0M1567.8 756.5h0M1567.8 759.6h0M1567.8 762.7h0M1567.9 765.8h0M1567.9 768.7h0M1567.9 771.6h0M1568.0 774.5h0M1568.0 777.3h0M1568.0 780.0h0M1568.0 782.7h0M1568.1 785.3h0M1568.1 787.8h0M1568.1 790.3h0M1568.2 792.7h0M1568.2 795.1h0M1568.2 797.5h0M1568.2 799.8h0M1568.3 802.0h0M1568.3 804.2h0M1568.3 806.3h0M1568.3 808.4h0M1568.3 810.5h0M1568.4 812.5h0M1568.4 814.5h0M1568.4 816.5h0M1568.4 818.5h0M1568.5 820.5h0M1568.5 822.5h0M1568.5 824.5h0M1597.2 576.9h0M1597.3 581.1h0M1597.3 585.3h0M1597.3 589.5h0M1597.4 593.7h0M1597.4 597.9h0M1597.5 602.1h0M1597.5 606.3h0M1597.5 610.5h0M1597.6 614.7h0M1597.6 618.9h0M1597.6 623.1h0M1597.7 627.3h0M1597.7 631.5h0M1597.8 635.7h0M1597.8 639.9h0M1597.8 644.1h0M1597.9 648.3h0M1597.9 652.5h0M1598.0 656.7h0M1598.0 660.9h0M1598.0 665.1h0M1598.1 669.3h0M1598.1 673.5h0M1598.2 677.7h0M1598.2 681.9h0M1598.2 686.1h0M1598.3 690.3h0M1598.3 694.5h0M1598.4 698.7h0M1598.4 702.8h0M1598.4 706.8h0M1598.5 710.7h0M1598.5 714.5h0M1598.5 718.3h0M1598.6 721.9h0M1598.6 725.5h0M1598.6 729.0h0M1598.7 732.5h0M1598.7 735.9h0M1598.7 739.2h0M1598.8 742.4h0M1598.8 745.5h0M1598.8 748.6h0M1598.8 751.7h0M1598.9 754.6h0M1598.9 757.5h0M1598.9 760.4h0M1598.9 763.2h0M1599.0 765.9h0M1599.0 768.6h0M1599.0 771.2h0M1599.0 773.7h0M1599.1 776.2h0M1599.1 778.7h0M1599.1 781.1h0M1599.1 783.4h0M1599.2 785.7h0M1599.2 787.9h0M1599.2 790.1h0M1599.2 792.3h0M1599.2 794.4h0M1599.3 796.5h0M1599.3 798.5h0M1599.3 800.5h0M1599.3 802.5h0M1599.3 804.5h0M1599.4 806.5h0M1599.4 808.5h0M1599.4 810.5h0M1631.0 562.0h0M1631.0 565.6h0M1631.0 569.2h0M1631.0 572.8h0M1631.0 576.4h0M1631.0 580.0h0M1631.0 583.6h0M1631.1 587.2h0M1631.1 590.8h0M1631.1 594.4h0M1631.1 598.0h0M1631.1 601.6h0M1631.1 605.2h0M1631.1 608.8h0M1631.1 612.4h0M1631.1 616.0h0M1631.1 619.6h0M1631.1 623.2h0M1631.1 626.8h0M1631.1 630.4h0M1631.2 634.0h0M1631.2 637.6h0M1631.2 641.2h0M1631.2 644.8h0M1631.2 648.4h0M1631.2 652.0h0M1631.2 655.6h0M1631.2 659.2h0M1631.2 662.8h0M1631.2 666.4h0M1631.2 670.0h0M1631.2 673.6h0M1631.2 677.2h0M1631.3 680.8h0M1631.3 684.4h0M1631.3 688.0h0M1631.3 691.6h0M1631.3 695.2h0M1631.3 698.8h0M1631.3 702.4h0M1631.3 706.0h0M1631.3 709.6h0M1631.3 713.2h0M1631.3 716.8h0M1631.3 720.4h0M1631.3 724.0h0M1631.4 727.6h0M1631.4 731.2h0M1631.4 734.8h0M1631.4 738.4h0M1631.4 742.0h0M1631.4 745.6h0M1631.4 749.2h0M1631.4 752.8h0M1631.4 756.4h0M1631.4 760.0h0M1631.4 763.6h0M1631.4 767.2h0M1631.4 770.8h0M1631.5 774.4h0M1631.5 778.0h0M1631.5 781.6h0M1631.5 785.2h0M1631.5 788.8h0M1631.5 792.4h0M1631.5 796.0h0M1662.0 578.0h0M1662.0 581.6h0M1662.0 585.2h0M1662.0 588.8h0M1662.0 592.4h0M1662.0 596.0h0M1662.0 599.6h0M1662.0 603.2h0M1662.0 606.8h0M1662.0 610.4h0M1662.1 614.0h0M1662.1 617.6h0M1662.1 621.2h0M1662.1 624.8h0M1662.1 628.4h0M1662.1 632.0h0M1662.1 635.6h0M1662.1 639.2h0M1662.1 642.8h0M1662.1 646.4h0M1662.1 650.0h0M1662.1 653.6h0M1662.1 657.2h0M1662.1 660.8h0M1662.1 664.4h0M1662.1 668.0h0M1662.1 671.6h0M1662.1 675.2h0M1662.1 678.8h0M1662.1 682.4h0M1662.1 686.0h0M1662.2 689.6h0M1662.2 693.2h0M1662.2 696.8h0M1662.2 700.4h0M1662.2 704.0h0M1662.2 707.6h0M1662.2 711.2h0M1662.2 714.8h0M1662.2 718.4h0M1662.2 722.0h0M1695.2 577.0h0M1695.2 580.6h0M1695.2 584.2h0M1695.2 587.8h0M1695.2 591.4h0M1695.2 595.0h0M1695.3 598.6h0M1695.3 602.2h0M1695.3 605.8h0M1695.3 609.4h0M1695.3 613.0h0M1695.3 616.6h0M1695.3 620.2h0M1695.3 623.8h0M1695.3 627.4h0M1695.3 631.0h0M1695.3 634.6h0M1695.4 638.2h0M1695.4 641.8h0M1695.4 645.4h0M1695.4 649.0h0M1695.4 652.6h0M1695.4 656.2h0M1695.4 659.8h0M1695.4 663.4h0M1695.4 667.0h0M1695.4 670.6h0M1695.4 674.2h0M1695.5 677.8h0M1695.5 681.4h0M1695.5 685.0h0M1695.5 688.6h0M1695.5 692.2h0M1695.5 695.8h0" fill="none" stroke="#000" stroke-width="4.30" stroke-linecap="round"/>
<path d="M1729.5 470.4h0M1730.2 495.6h0M1730.2 526.4h0" fill="none" stroke="#000" stroke-width="3.7" stroke-linecap="round"/>
<g font-size="16.3px">
<text transform="translate(622.2 800.9) rotate(-80)">n=1</text>
<text transform="translate(655.6 783.9) rotate(-80)">n=2</text>
<text transform="translate(688.4 767.9) rotate(-80)">n=3</text>
<text transform="translate(721.4 753.1) rotate(-80)">n=4</text>
<text transform="translate(754.0 740.1) rotate(-80)">n=5</text>
<text transform="translate(786.8 727.5) rotate(-80)">n=6</text>
<text transform="translate(819.4 715.5) rotate(-80)">n=7</text>
<text transform="translate(852.0 703.9) rotate(-80)">n=8</text>
<text transform="translate(884.2 692.5) rotate(-80)">n=9</text>
<text transform="translate(916.6 682.5) rotate(-80)">n=10</text>
<text transform="translate(948.8 672.5) rotate(-80)">n=11</text>
<text transform="translate(981.0 662.5) rotate(-80)">n=12</text>
<text transform="translate(1012.8 654.1) rotate(-80)">n=13</text>
<text transform="translate(1044.8 646.5) rotate(-80)">n=14</text>
<text transform="translate(1076.8 640.5) rotate(-80)">n=15</text>
<text transform="translate(1108.2 634.5) rotate(-80)">n=16</text>
<text transform="translate(1139.8 630.5) rotate(-80)">n=17</text>
<text transform="translate(1171.2 626.5) rotate(-80)">n=18</text>
<text transform="translate(1202.8 622.5) rotate(-80)">n=19</text>
<text transform="translate(1234.2 616.5) rotate(-80)">n=20</text>
<text transform="translate(1265.4 613.1) rotate(-80)">n=21</text>
<text transform="translate(1296.6 608.1) rotate(-80)">n=22</text>
<text transform="translate(1328.0 602.5) rotate(-80)">n=23</text>
<text transform="translate(1359.4 596.9) rotate(-80)">n=24</text>
<text transform="translate(1390.4 589.5) rotate(-80)">n=25</text>
</g>
<rect x="250.5" y="144.5" width="1550" height="924" fill="none" stroke="#000" stroke-width="1.1"/>
<path d="M313.00 1068v16.67M537.00 1068v16.67M762.00 1068v16.67M986.00 1068v16.67M1210.00 1068v16.67M1435.00 1068v16.67M1659.00 1068v16.67M257.00 1068v11.11M369.00 1068v11.11M425.00 1068v11.11M481.00 1068v11.11M593.00 1068v11.11M649.00 1068v11.11M706.00 1068v11.11M818.00 1068v11.11M874.00 1068v11.11M930.00 1068v11.11M1042.00 1068v11.11M1098.00 1068v11.11M1154.00 1068v11.11M1266.00 1068v11.11M1322.00 1068v11.11M1379.00 1068v11.11M1491.00 1068v11.11M1547.00 1068v11.11M1603.00 1068v11.11M1715.00 1068v11.11M1771.00 1068v11.11M250 913.00h-16.67M250 719.00h-16.67M250 525.00h-16.67M250 331.00h-16.67M250 1068.00h-11.11M250 1029.00h-11.11M250 990.00h-11.11M250 951.00h-11.11M250 874.00h-11.11M250 835.00h-11.11M250 796.00h-11.11M250 757.00h-11.11M250 680.00h-11.11M250 641.00h-11.11M250 602.00h-11.11M250 563.00h-11.11M250 486.00h-11.11M250 447.00h-11.11M250 408.00h-11.11M250 369.00h-11.11M250 292.00h-11.11M250 253.00h-11.11M250 214.00h-11.11M250 175.00h-11.11" stroke="#000" stroke-width="5.7" fill="none"/>
<g font-size="36.11px">
<g text-anchor="middle">
<text x="313.5" y="1117.4">84.20</text>
<text x="537.8" y="1117.4">84.22</text>
<text x="762.2" y="1117.4">84.24</text>
<text x="986.5" y="1117.4">84.26</text>
<text x="1210.8" y="1117.4">84.28</text>
<text x="1435.1" y="1117.4">84.30</text>
<text x="1659.5" y="1117.4">84.32</text>
</g><g text-anchor="end">
<text x="228.3" y="926.7">200</text>
<text x="228.3" y="732.7">300</text>
<text x="228.3" y="538.7">400</text>
<text x="228.3" y="344.7">500</text>
</g></g>
<g font-size="55.56px" text-anchor="middle">
<text x="1025" y="1170.6">Age (Myr)</text>
<text transform="translate(141.3 606.7) rotate(-90)">FM period (days)</text>
</g>
<rect x="263.9" y="157.9" width="380.7" height="108.5" rx="4.2" ry="4.2" fill="#fff" fill-opacity="0.8" stroke="#d2d2d2" stroke-width="1.1"/>
<path d="M272 177.2H324" stroke="#000" stroke-width="2.08" fill="none"/>
<circle cx="298" cy="177.3" r="2.15"/>
<circle cx="298.5" cy="231.6" r="6.65" fill="#ffffca" stroke="#ffffa8" stroke-width="1.9"/>
<g font-size="25px">
<text x="342.5" y="186.1">m5.00_z0.0005_y0.250</text>
<text x="342.2" y="223.1">intersection w/ P,L,T,R</text>
<text x="342.2" y="251.1">loosely defined</text>
</g>
</svg>
</body></html>
